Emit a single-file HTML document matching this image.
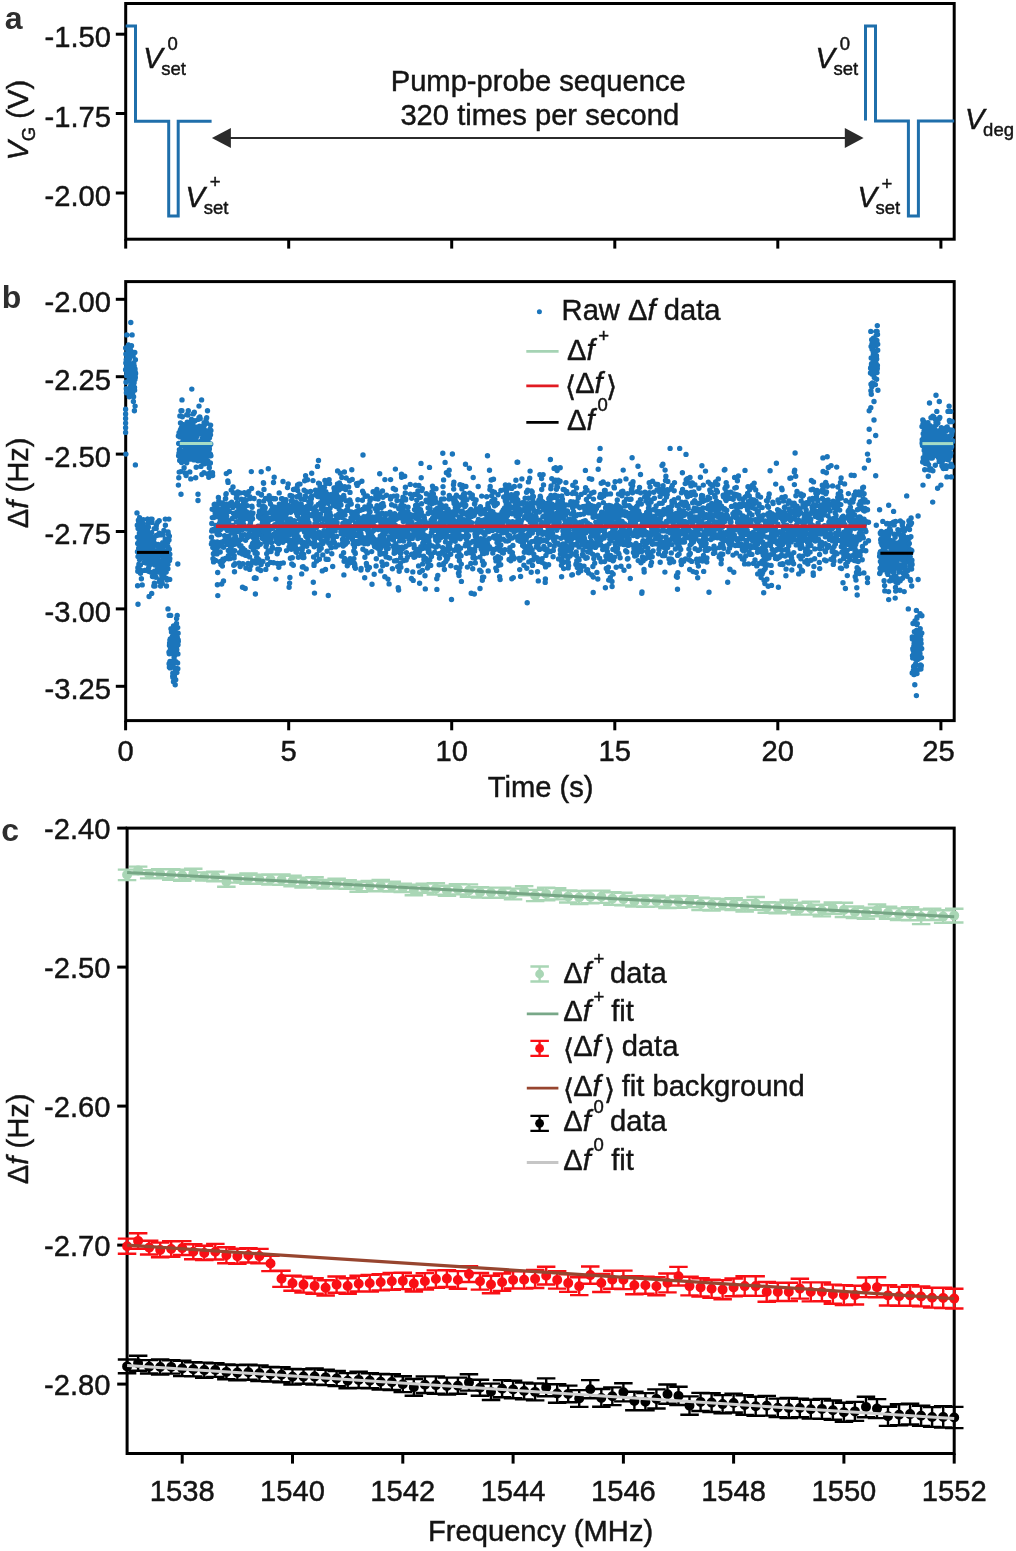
<!DOCTYPE html>
<html lang="en"><head><meta charset="utf-8"><title>Pump-probe sequence figure</title>
<style>html,body{margin:0;padding:0;background:#fff}svg{display:block}.t{font-family:"Liberation Sans","DejaVu Sans",sans-serif;font-size:29.17px;fill:#141414;stroke:#141414;stroke-width:.45px}.s{font-size:18.5px}.i{font-style:italic}.b{font-family:"Liberation Sans",sans-serif;font-weight:bold;font-size:32px;fill:#2e2e2e}.br{font-family:"DejaVu Sans",sans-serif;font-size:28.5px}</style></head><body>
<svg width="1016" height="1551" viewBox="0 0 1016 1551">
<rect width="1016" height="1551" fill="#fff"/>
<g id="panel-a">
<rect x="125.7" y="3.5" width="828.5" height="235.7" fill="none" stroke="#000" stroke-width="3"/>
<line x1="115.8" y1="34.2" x2="125.7" y2="34.2" stroke="#000" stroke-width="3"/>
<text class="t" x="111" y="47.4" text-anchor="end">-1.50</text>
<line x1="115.8" y1="113.5" x2="125.7" y2="113.5" stroke="#000" stroke-width="3"/>
<text class="t" x="111" y="126.7" text-anchor="end">-1.75</text>
<line x1="115.8" y1="193" x2="125.7" y2="193" stroke="#000" stroke-width="3"/>
<text class="t" x="111" y="206.2" text-anchor="end">-2.00</text>
<line x1="125.7" y1="239.2" x2="125.7" y2="248.6" stroke="#000" stroke-width="3"/>
<line x1="288.7" y1="239.2" x2="288.7" y2="248.6" stroke="#000" stroke-width="3"/>
<line x1="451.7" y1="239.2" x2="451.7" y2="248.6" stroke="#000" stroke-width="3"/>
<line x1="614.8" y1="239.2" x2="614.8" y2="248.6" stroke="#000" stroke-width="3"/>
<line x1="777.8" y1="239.2" x2="777.8" y2="248.6" stroke="#000" stroke-width="3"/>
<line x1="940.9" y1="239.2" x2="940.9" y2="248.6" stroke="#000" stroke-width="3"/>
<text class="t" transform="translate(27.5,160.6) rotate(-90)"><tspan class="i">V</tspan><tspan class="s" dy="7.5">G</tspan><tspan dy="-7.5"> (V)</tspan></text>
<path d="M125.7 26H135.5V121.2H168.7V216.1H178.2V121.2H211.6" fill="none" stroke="#1f6fab" stroke-width="3" stroke-linejoin="miter"/>
<path d="M865.5 120.6V26H875.5V121.1H908.4V216.1H918.4V121.1H954.2" fill="none" stroke="#1f6fab" stroke-width="3" stroke-linejoin="miter"/>
<line x1="228" y1="138.1" x2="848" y2="138.1" stroke="#2b2b2b" stroke-width="2"/>
<path d="M211.9 138.1L230.9 128.1V148.1Z" fill="#2b2b2b"/>
<path d="M863.6 138.1L844.8 128.1V148.1Z" fill="#2b2b2b"/>
<text class="t" x="538.2" y="91.2" text-anchor="middle">Pump-probe sequence</text>
<text class="t" x="539.8" y="125.3" text-anchor="middle">320 times per second</text>
<text class="t i" x="143.2" y="67.6">V</text>
<text class="t s" x="161.3" y="74.8">set</text>
<text class="t s" x="167.5" y="49.6">0</text>
<text class="t i" x="185.6" y="207">V</text>
<text class="t s" x="203.7" y="214.2">set</text>
<text class="t s" x="209.8" y="188.4">+</text>
<text class="t i" x="815.4" y="67.6">V</text>
<text class="t s" x="833.5" y="74.8">set</text>
<text class="t s" x="839.7" y="49.6">0</text>
<text class="t i" x="857.4" y="207">V</text>
<text class="t s" x="875.5" y="214.2">set</text>
<text class="t s" x="881.6" y="189.8">+</text>
<text class="t i" x="965" y="129">V</text>
<text class="t s" x="983.1" y="136.2">deg</text>
<text class="b" x="4.8" y="28.8">a</text>
</g>
<g id="panel-b">
<rect x="125.7" y="281.6" width="828.5" height="439" fill="none" stroke="#000" stroke-width="3"/>
<line x1="115.8" y1="299.3" x2="125.7" y2="299.3" stroke="#000" stroke-width="3"/>
<text class="t" x="111" y="312.1" text-anchor="end">-2.00</text>
<line x1="115.8" y1="376.7" x2="125.7" y2="376.7" stroke="#000" stroke-width="3"/>
<text class="t" x="111" y="389.5" text-anchor="end">-2.25</text>
<line x1="115.8" y1="454.1" x2="125.7" y2="454.1" stroke="#000" stroke-width="3"/>
<text class="t" x="111" y="466.9" text-anchor="end">-2.50</text>
<line x1="115.8" y1="531.5" x2="125.7" y2="531.5" stroke="#000" stroke-width="3"/>
<text class="t" x="111" y="544.3" text-anchor="end">-2.75</text>
<line x1="115.8" y1="608.9" x2="125.7" y2="608.9" stroke="#000" stroke-width="3"/>
<text class="t" x="111" y="621.7" text-anchor="end">-3.00</text>
<line x1="115.8" y1="686.3" x2="125.7" y2="686.3" stroke="#000" stroke-width="3"/>
<text class="t" x="111" y="699.1" text-anchor="end">-3.25</text>
<line x1="125.6" y1="720.6" x2="125.6" y2="730.3" stroke="#000" stroke-width="3"/>
<text class="t" x="125.6" y="760.6" text-anchor="middle">0</text>
<line x1="288.7" y1="720.6" x2="288.7" y2="730.3" stroke="#000" stroke-width="3"/>
<text class="t" x="288.7" y="760.6" text-anchor="middle">5</text>
<line x1="451.7" y1="720.6" x2="451.7" y2="730.3" stroke="#000" stroke-width="3"/>
<text class="t" x="451.7" y="760.6" text-anchor="middle">10</text>
<line x1="614.8" y1="720.6" x2="614.8" y2="730.3" stroke="#000" stroke-width="3"/>
<text class="t" x="614.8" y="760.6" text-anchor="middle">15</text>
<line x1="777.8" y1="720.6" x2="777.8" y2="730.3" stroke="#000" stroke-width="3"/>
<text class="t" x="777.8" y="760.6" text-anchor="middle">20</text>
<line x1="940.9" y1="720.6" x2="940.9" y2="730.3" stroke="#000" stroke-width="3"/>
<text class="t" x="938.4" y="760.6" text-anchor="middle">25</text>
<text class="t" x="540.6" y="797" text-anchor="middle">Time (s)</text>
<text class="t" transform="translate(27.5,528.2) rotate(-90)">Δ<tspan class="i">f</tspan> (Hz)</text>
<path d="M125.6 369.7h0M125.7 347.9h0M125.8 362.9h0M125.9 353.9h0M126 382.2h0M126.2 359.6h0M126.3 388.7h0M126.4 392.8h0M126.5 367.5h0M126.6 375.8h0M126.7 359.3h0M126.8 334.9h0M126.9 372.4h0M127 370h0M127.1 356.2h0M127.2 353.5h0M127.4 362.6h0M127.5 362.6h0M127.6 348.5h0M127.7 349.3h0M127.8 370.9h0M127.9 358.3h0M128 358.7h0M128.1 374.1h0M128.2 356h0M128.3 372.7h0M128.4 344.9h0M128.6 358.4h0M128.7 362.3h0M128.8 372.1h0M128.9 365.2h0M129 393.2h0M129.1 380.5h0M129.2 359.4h0M129.3 396.8h0M129.4 354.1h0M129.5 393.4h0M129.6 358.2h0M129.8 381.2h0M129.8 357.2h0M130 366.2h0M130.1 391.9h0M130.2 351.3h0M130.3 349.5h0M130.4 372.6h0M130.5 375.3h0M130.6 374.3h0M130.7 385.8h0M130.8 354.6h0M131 376.5h0M131 370.7h0M131.2 380.6h0M131.3 378.1h0M131.4 387.7h0M131.5 351.8h0M131.6 373h0M131.7 355.5h0M131.8 369.5h0M131.9 379.8h0M132 374.6h0M132.1 376.7h0M132.3 368.2h0M132.4 376.2h0M132.5 375.7h0M132.6 393.6h0M132.7 388.5h0M132.8 352.4h0M132.9 385h0M133 390.4h0M133.1 370.8h0M133.2 355.8h0M133.3 396.5h0M133.5 377.7h0M133.6 383.7h0M133.6 396.8h0M133.8 363h0M133.9 373.1h0M134 371h0M134.1 382.7h0M134.2 365.9h0M134.3 379.8h0M134.4 374.5h0M134.5 387.4h0M134.6 390.2h0M134.8 352.5h0M134.9 379.6h0M135 369h0M135.1 371.8h0M135.2 376.1h0M135.3 377.5h0M135.4 359.7h0M135.5 373h0M135.6 373.5h0M130.8 322.5h0M132.1 334.9h0M131.5 345.7h0M125.6 409.2h0M125.6 413.9h0M125.6 418.5h0M125.6 423.1h0M125.6 427.8h0M125.6 432.4h0M125.9 454.1h0M135.4 464.9h0M134.4 410.8h0M135.1 406.1h0M133.4 401.5h0M137.4 537.1h0M137.5 551.7h0M137.6 585.8h0M137.7 543.4h0M137.8 571.3h0M137.9 567.8h0M138 556.6h0M138.1 528.6h0M138.2 552.2h0M138.3 543h0M138.4 520.3h0M138.6 523.5h0M138.7 548.2h0M138.8 550h0M138.9 564.2h0M139 556.6h0M139.1 540.4h0M139.2 541.2h0M139.3 545.4h0M139.4 532.9h0M139.5 559.5h0M139.6 549.3h0M139.7 537.3h0M139.9 540.4h0M140 533.7h0M140.1 542.9h0M140.2 554.1h0M140.3 544.4h0M140.4 565h0M140.5 573.2h0M140.6 539.4h0M140.7 546.9h0M140.8 542h0M141 570.4h0M141 551.3h0M141.1 554.8h0M141.3 557.4h0M141.4 578.8h0M141.5 550.4h0M141.6 532.9h0M141.7 539.3h0M141.8 553.5h0M141.9 545.9h0M142 534.7h0M142.2 584.9h0M142.2 547.1h0M142.3 537.3h0M142.5 535.9h0M142.6 523.3h0M142.7 530.8h0M142.8 542.2h0M142.9 542.4h0M143 535.5h0M143.1 553.8h0M143.2 547.2h0M143.3 534.4h0M143.4 519.6h0M143.5 549.1h0M143.7 548.9h0M143.8 544.4h0M143.9 528.7h0M144 549.5h0M144.1 526.9h0M144.2 562.2h0M144.3 552.2h0M144.4 552.8h0M144.5 537.9h0M144.6 533.2h0M144.7 570.4h0M144.8 561.6h0M145 543.1h0M145.1 558.1h0M145.2 570.4h0M145.3 533.7h0M145.4 542.1h0M145.5 542.6h0M145.6 556.5h0M145.7 535h0M145.8 553.8h0M145.9 535h0M146.1 563h0M146.2 562h0M146.3 546.1h0M146.4 558.2h0M146.5 538h0M146.6 542.1h0M146.7 560.1h0M146.8 545.2h0M146.9 551.7h0M147 532.1h0M147.2 553.1h0M147.2 552.2h0M147.4 529.5h0M147.5 519.1h0M147.6 519.1h0M147.7 544.6h0M147.8 542.6h0M147.9 523.5h0M148 547h0M148.1 559.5h0M148.2 543.1h0M148.3 540.4h0M148.4 558.5h0M148.6 571.3h0M148.7 567.6h0M148.8 537.7h0M148.9 559.1h0M149 550h0M149.1 545.8h0M149.2 540.9h0M149.3 556h0M149.4 544.1h0M149.5 563.7h0M149.6 555.2h0M149.7 565h0M149.9 533.1h0M150 549.8h0M150.1 560.3h0M150.2 554.3h0M150.3 551.6h0M150.4 538.7h0M150.5 572.1h0M150.6 564.3h0M150.7 554.8h0M150.8 519.1h0M150.9 535.6h0M151.1 551.4h0M151.2 539.3h0M151.3 520.7h0M151.4 553.4h0M151.5 555.1h0M151.6 532.8h0M151.7 541.4h0M151.8 538.7h0M151.9 554.2h0M152 519.1h0M152.1 522.4h0M152.3 539.3h0M152.4 537.4h0M152.5 576.5h0M152.6 538.2h0M152.7 550.6h0M152.8 543.3h0M152.9 540h0M153 556.7h0M153.1 575.8h0M153.2 546.8h0M153.3 563.4h0M153.4 557.7h0M153.6 561.4h0M153.7 558.8h0M153.8 586h0M153.9 538.7h0M154 554.3h0M154.1 542.6h0M154.2 528.6h0M154.3 557.5h0M154.4 583.1h0M154.5 571.1h0M154.6 575.1h0M154.8 565.1h0M154.8 556.7h0M155 586h0M155.1 550.6h0M155.2 577h0M155.3 550.8h0M155.4 557.5h0M155.5 559.8h0M155.6 556.5h0M155.7 562.4h0M155.8 563.4h0M156 577.3h0M156.1 555.2h0M156.2 528.4h0M156.3 525.6h0M156.4 535.4h0M156.5 544.9h0M156.6 564.9h0M156.7 535.5h0M156.8 556.9h0M156.9 554.9h0M157 557h0M157.1 552.5h0M157.3 560.8h0M157.4 556h0M157.5 569.5h0M157.6 559.9h0M157.7 522.3h0M157.8 555.3h0M157.9 556.9h0M158 546.1h0M158.1 544.5h0M158.2 572h0M158.3 559.5h0M158.4 545.1h0M158.6 553.6h0M158.7 556.2h0M158.8 535h0M158.9 565.4h0M159 553.3h0M159.1 562.9h0M159.2 533.2h0M159.3 581.7h0M159.4 563.8h0M159.5 562.6h0M159.7 545.4h0M159.8 547.6h0M159.9 534.9h0M160 579.6h0M160.1 547h0M160.2 562.1h0M160.3 567.5h0M160.4 549.9h0M160.5 570.5h0M160.6 586h0M160.7 561.5h0M160.8 579.5h0M160.9 567.1h0M161.1 552.9h0M161.2 553.5h0M161.3 534.8h0M161.4 561.2h0M161.5 580.8h0M161.6 568.7h0M161.7 570.6h0M161.8 575.4h0M161.9 549.7h0M162 563.2h0M162.2 583.5h0M162.2 544.7h0M162.4 554.1h0M162.5 546.7h0M162.6 550.2h0M162.7 542.8h0M162.8 551.8h0M162.9 534.8h0M163 546.9h0M163.1 546.7h0M163.2 546.8h0M163.3 574.1h0M163.4 556.5h0M163.6 557.9h0M163.7 551.9h0M163.8 574.5h0M163.9 530.5h0M164 552.1h0M164.1 570.6h0M164.2 577.4h0M164.3 556.8h0M164.4 554.2h0M164.5 563.5h0M164.6 551.1h0M164.7 562.6h0M164.8 544.3h0M165 562.6h0M165.1 553.4h0M165.2 539.2h0M165.3 519.1h0M165.4 568.2h0M165.5 560.9h0M165.6 565.3h0M165.7 542.6h0M165.8 572.3h0M165.9 563.3h0M166.1 558.4h0M166.2 571.9h0M166.3 570.6h0M166.4 563h0M166.5 586h0M166.6 578.5h0M166.7 562h0M166.8 553.5h0M166.9 558.3h0M167 580.1h0M167.1 559.1h0M167.2 539.8h0M167.3 543.2h0M167.5 552.1h0M167.6 563.2h0M167.7 542h0M167.8 560.3h0M167.9 568.8h0M168 564.3h0M168.1 532h0M168.2 549.6h0M168.3 534h0M168.4 558.4h0M168.6 538.1h0M168.7 560.5h0M168.8 553.7h0M168.9 519.1h0M169 540h0M169.1 559h0M169.2 554.5h0M169.3 549.3h0M169.4 536.1h0M169.5 560.5h0M169.7 579.4h0M169.8 558.6h0M169.8 554.3h0M137 512.9h0M139.6 517.6h0M137.3 525.3h0M140.3 526.9h0M148.4 526.9h0M165.4 525.3h0M159.2 520.7h0M138 604.3h0M149.1 596.5h0M151.7 593.4h0M177.8 564h0M168 547h0M169 652.3h0M169.1 663.7h0M169.2 615.4h0M169.3 653.8h0M169.4 667.2h0M169.5 645.5h0M169.6 642.9h0M169.8 662.2h0M169.9 640.1h0M170 661.4h0M170.1 667.9h0M170.2 650.1h0M170.3 638.9h0M170.4 662.1h0M170.5 647.6h0M170.6 653.2h0M170.7 615.4h0M170.9 663.1h0M171 628.7h0M171.1 651.4h0M171.2 653.5h0M171.3 641.4h0M171.4 638.3h0M171.5 632h0M171.6 647.8h0M171.7 663.1h0M171.8 661.5h0M171.9 644.4h0M172 643.8h0M172.1 630.3h0M172.3 644.9h0M172.4 636.5h0M172.5 629.5h0M172.6 650.1h0M172.7 676.2h0M172.8 673.3h0M172.9 677.4h0M173 629.2h0M173.1 665.6h0M173.2 635.1h0M173.4 642.5h0M173.5 625.9h0M173.6 636h0M173.7 651.9h0M173.8 652.4h0M173.9 647.8h0M174 647.5h0M174.1 657.8h0M174.2 650.7h0M174.3 627.3h0M174.4 676.2h0M174.5 644.9h0M174.6 661.3h0M174.7 645.1h0M174.9 633.6h0M175 646.1h0M175.1 631.8h0M175.2 668.7h0M175.3 627.9h0M175.4 654.8h0M175.5 637.8h0M175.6 646.3h0M175.7 679.8h0M175.9 661.7h0M176 646.5h0M176.1 625.8h0M176.2 643.7h0M176.3 642.9h0M176.4 669h0M176.5 623.5h0M176.6 618.5h0M176.7 646.5h0M176.8 649.6h0M176.9 672.6h0M177 633.8h0M177.2 615.4h0M177.3 637.5h0M177.4 627.4h0M177.5 639.4h0M177.6 663h0M177.7 627.6h0M177.8 668.8h0M177.9 653.9h0M178 644.8h0M178.1 633.2h0M178.2 640h0M178.3 641.2h0M168 608.9h0M175.2 684.8h0M173.5 681.7h0M178.4 436h0M178.6 455.8h0M178.7 443.4h0M178.8 477.7h0M178.9 435.7h0M179 453.3h0M179.1 432.7h0M179.2 472.1h0M179.3 436h0M179.4 449.6h0M179.5 436.8h0M179.7 460.4h0M179.7 455.9h0M179.9 415.9h0M180 457.3h0M180.1 455.4h0M180.2 450h0M180.3 460.3h0M180.4 430h0M180.5 423h0M180.6 456.8h0M180.7 471.6h0M180.8 431.1h0M180.9 430.5h0M181 433.8h0M181.2 428.3h0M181.3 456.4h0M181.4 446.1h0M181.5 462h0M181.6 462.6h0M181.7 427.2h0M181.8 451.4h0M181.9 410.7h0M182 442.4h0M182.1 452.8h0M182.3 432.1h0M182.3 416.8h0M182.5 435.9h0M182.6 459.9h0M182.7 437.9h0M182.8 424.4h0M182.9 451.8h0M183 455.6h0M183.1 431.9h0M183.2 444.1h0M183.3 461.5h0M183.5 451.8h0M183.6 457.9h0M183.7 444.2h0M183.8 445.1h0M183.9 431.5h0M184 436.3h0M184.1 467.8h0M184.2 440.3h0M184.3 434.3h0M184.4 439.6h0M184.5 430h0M184.7 453h0M184.7 458.9h0M184.9 431.4h0M185 459.3h0M185.1 473h0M185.2 428.6h0M185.3 452.9h0M185.4 448.1h0M185.5 461.7h0M185.6 461.4h0M185.7 460.9h0M185.8 449.8h0M185.9 439.6h0M186.1 475.5h0M186.2 432.9h0M186.3 460.2h0M186.4 458h0M186.5 432.2h0M186.6 442.9h0M186.7 462.7h0M186.8 414.7h0M186.9 453.1h0M187 437.5h0M187.1 438.3h0M187.2 422.1h0M187.4 447.4h0M187.5 428h0M187.6 451.8h0M187.7 424.8h0M187.8 451.5h0M187.9 446.6h0M188 415.1h0M188.1 437h0M188.2 439.3h0M188.3 410.7h0M188.4 434.9h0M188.5 452.1h0M188.7 430.1h0M188.8 458.5h0M188.9 425.4h0M189 424.3h0M189.1 449.8h0M189.2 449.6h0M189.3 437.8h0M189.4 442.6h0M189.5 456.6h0M189.7 436.1h0M189.8 471.9h0M189.9 447.2h0M190 447.3h0M190.1 445.5h0M190.2 437.6h0M190.3 459h0M190.4 432.9h0M190.5 442.7h0M190.6 450.3h0M190.7 459.1h0M190.8 457.5h0M190.9 435.6h0M191.1 453.3h0M191.2 438.4h0M191.3 425.2h0M191.4 426.4h0M191.5 419.4h0M191.6 445.7h0M191.7 455.9h0M191.8 427.4h0M191.9 437.1h0M192 425.2h0M192.2 440.5h0M192.2 423.5h0M192.3 427.2h0M192.5 428.8h0M192.6 431.2h0M192.7 432.4h0M192.8 433.4h0M192.9 435.3h0M193 423.6h0M193.1 445.2h0M193.2 413.9h0M193.3 440.8h0M193.4 427.2h0M193.6 442.7h0M193.7 445.6h0M193.8 413.1h0M193.9 447.4h0M194 459.9h0M194.1 451.8h0M194.2 446.5h0M194.3 412.3h0M194.4 440.4h0M194.5 431.2h0M194.6 458.9h0M194.7 439.8h0M194.9 435.4h0M195 420.7h0M195.1 456.1h0M195.2 438.5h0M195.3 442.5h0M195.4 459.5h0M195.5 444.8h0M195.6 448.5h0M195.7 477.7h0M195.8 438.9h0M196 441h0M196.1 454.1h0M196.2 467.3h0M196.3 427.4h0M196.4 444.9h0M196.5 434.2h0M196.6 427.3h0M196.7 455h0M196.8 436.4h0M196.9 451.9h0M197 448.5h0M197.2 449.6h0M197.3 449.2h0M197.4 434.6h0M197.5 449.5h0M197.6 452.9h0M197.7 452.2h0M197.8 444.3h0M197.9 460.7h0M198 454.9h0M198.1 449.4h0M198.2 456.7h0M198.3 450.5h0M198.4 457.9h0M198.6 419.3h0M198.7 430.3h0M198.8 442.2h0M198.9 448.9h0M199 417.7h0M199.1 443.8h0M199.2 448.7h0M199.3 443h0M199.4 442.5h0M199.5 426.3h0M199.6 448.1h0M199.8 416.9h0M199.9 456.9h0M200 433.9h0M200.1 456.9h0M200.2 418.4h0M200.3 448.8h0M200.4 445.6h0M200.5 432.3h0M200.6 426.8h0M200.7 460.8h0M200.8 450.1h0M200.9 466.4h0M201.1 444.9h0M201.2 448.1h0M201.3 452.1h0M201.4 457.4h0M201.5 451.5h0M201.6 457.6h0M201.7 440.4h0M201.8 427.1h0M201.9 474.5h0M202 447.1h0M202.1 451h0M202.3 438.8h0M202.4 459.4h0M202.5 447.1h0M202.6 460.5h0M202.7 434.7h0M202.8 441.9h0M202.9 445.6h0M203 437.6h0M203.1 445.7h0M203.2 462.8h0M203.4 433.5h0M203.4 436.9h0M203.6 443.5h0M203.7 428.2h0M203.8 424.9h0M203.9 457.7h0M204 454.2h0M204.1 422.8h0M204.2 425.4h0M204.3 454.5h0M204.4 459.1h0M204.5 450.9h0M204.7 448h0M204.7 463.8h0M204.9 441.2h0M205 459.5h0M205.1 459.5h0M205.2 430.5h0M205.3 452.9h0M205.4 444.6h0M205.5 435.7h0M205.6 432.7h0M205.7 449.2h0M205.9 442.9h0M205.9 455.2h0M206.1 419.2h0M206.2 434.6h0M206.3 459.4h0M206.4 444.4h0M206.5 434.7h0M206.6 437.4h0M206.7 417.8h0M206.8 423.2h0M206.9 451.6h0M207 445.6h0M207.1 462.7h0M207.3 441h0M207.4 442.8h0M207.5 410.7h0M207.6 443.3h0M207.7 474h0M207.8 454.9h0M207.9 442.7h0M208 461.1h0M208.1 456.2h0M208.2 448.4h0M208.3 439.1h0M208.4 445.3h0M208.6 455.7h0M208.7 432.8h0M208.8 451.8h0M208.9 451.9h0M209 464.1h0M209.1 455.6h0M209.2 435.3h0M209.3 467.7h0M209.4 449h0M209.5 437.7h0M209.7 454.6h0M209.7 445.6h0M209.9 463.6h0M210 429.1h0M210.1 432.3h0M210.2 444.5h0M210.3 472.6h0M210.4 463h0M210.5 434.8h0M210.6 425.1h0M210.7 443.9h0M210.9 430.5h0M210.9 455.7h0M191.8 389.1h0M182 399.9h0M201.6 399.9h0M199 406.1h0M181 410.8h0M178.4 485.1h0M181 494.3h0M198 494.3h0M198 500.5h0M190.8 478.9h0M208.8 477.3h0M210.4 454.1h0M203.9 472.7h0M211.4 544.1h0M211.5 537.3h0M211.7 531.1h0M211.8 523.5h0M211.9 542.4h0M212.1 529.9h0M212.2 509.2h0M212.3 517.6h0M212.5 472.7h0M212.6 475.5h0M212.8 547.4h0M212.9 542.2h0M213 558.8h0M213.2 558.7h0M213.3 529.7h0M213.4 553.8h0M213.6 561.9h0M213.7 543h0M213.8 517.5h0M214 541.9h0M214.1 530.8h0M214.2 504.5h0M214.4 517.3h0M214.5 510.6h0M214.7 504.3h0M214.8 551.5h0M214.9 529.7h0M215.1 549.4h0M215.2 513.7h0M215.3 516h0M215.5 560.5h0M215.6 508.2h0M215.8 550.7h0M215.9 504.9h0M216 525.4h0M216.1 544.9h0M216.3 545.3h0M216.4 531.5h0M216.6 529.9h0M216.7 548.2h0M216.8 516.5h0M217 553.9h0M217.1 533.9h0M217.2 541.9h0M217.4 584.7h0M217.5 543.4h0M217.7 572.5h0M217.8 595.6h0M217.9 546.7h0M218.1 534.7h0M218.2 510.3h0M218.3 534.5h0M218.4 497.4h0M218.6 503.8h0M218.7 510.3h0M218.8 501.1h0M219 528h0M219.1 542.6h0M219.3 513.5h0M219.4 508.9h0M219.5 523.4h0M219.7 534.6h0M219.8 561.8h0M220 511.4h0M220.1 521.7h0M220.2 552h0M220.3 519.3h0M220.5 503.2h0M220.6 529.6h0M220.8 518.5h0M220.9 515.6h0M221 564.5h0M221.2 542.1h0M221.3 527.9h0M221.5 523.3h0M221.6 512.7h0M221.7 584h0M221.9 546.3h0M222 526.2h0M222.1 519h0M222.3 503h0M222.4 566.1h0M222.5 542.2h0M222.7 561.4h0M222.8 518.6h0M222.9 559.1h0M223.1 506.1h0M223.2 507.9h0M223.4 517.8h0M223.5 580.9h0M223.6 547.3h0M223.8 512.1h0M223.9 559.9h0M224 541.9h0M224.2 540.6h0M224.3 517.3h0M224.4 528.1h0M224.6 523.1h0M224.7 535.7h0M224.8 524.4h0M225 535.9h0M225.1 508.1h0M225.2 527.4h0M225.4 498.8h0M225.5 558.4h0M225.7 498.6h0M225.8 527.5h0M225.9 494.2h0M226.1 510.9h0M226.2 493.6h0M226.3 473.6h0M226.5 520.6h0M226.6 507h0M226.7 516h0M226.9 504.2h0M227 544.4h0M227.2 511.6h0M227.3 508.1h0M227.4 530.4h0M227.6 510.4h0M227.7 539.5h0M227.8 481h0M228 510.6h0M228.1 482.4h0M228.3 550.4h0M228.4 555.8h0M228.5 525.6h0M228.7 558.7h0M228.8 520.6h0M228.9 536h0M229.1 524h0M229.2 504.2h0M229.3 511.4h0M229.4 471.6h0M229.6 505.3h0M229.7 551.2h0M229.9 504.9h0M230 554h0M230.1 529.2h0M230.3 558.6h0M230.4 546.4h0M230.5 503.1h0M230.7 542.7h0M230.8 547.9h0M231 539.8h0M231.1 527.1h0M231.2 490.1h0M231.4 546.3h0M231.5 541.3h0M231.7 502.3h0M231.8 552.1h0M231.9 532.7h0M232 503.9h0M232.2 518.5h0M232.3 532h0M232.5 525.4h0M232.6 531.5h0M232.7 527h0M232.8 507.5h0M233 486.9h0M233.1 492.6h0M233.3 530.6h0M233.4 540.1h0M233.5 513.4h0M233.7 565.2h0M233.8 539.1h0M234 544.5h0M234.1 558.1h0M234.2 555.6h0M234.3 527.8h0M234.5 571.7h0M234.6 564.5h0M234.7 550.6h0M234.9 536.4h0M235 563.7h0M235.2 505.6h0M235.3 530.1h0M235.5 528.7h0M235.6 531.2h0M235.7 536.9h0M235.9 540.1h0M236 493.8h0M236.1 516.5h0M236.3 521.9h0M236.4 497.9h0M236.5 531.8h0M236.7 503.9h0M236.8 512h0M236.9 531.8h0M237.1 495h0M237.2 543.8h0M237.4 502.7h0M237.5 539.9h0M237.6 514.1h0M237.7 492h0M237.9 504.5h0M238 530.6h0M238.2 521.7h0M238.3 531.6h0M238.4 543.5h0M238.6 542.6h0M238.7 521.4h0M238.8 508.5h0M239 563.1h0M239.1 527.3h0M239.2 515.6h0M239.4 524.7h0M239.5 552.8h0M239.7 505.7h0M239.8 546h0M239.9 513.2h0M240.1 492.9h0M240.2 566.6h0M240.3 509.6h0M240.5 511.5h0M240.6 518.2h0M240.7 539.6h0M240.9 522.2h0M241 545.8h0M241.1 513.9h0M241.3 499.2h0M241.4 535h0M241.5 550.1h0M241.7 536.6h0M241.8 523.8h0M242 528.6h0M242.1 529.7h0M242.2 526h0M242.4 554h0M242.5 587.2h0M242.7 518.9h0M242.8 505.4h0M242.9 563.8h0M243 548.5h0M243.2 520.7h0M243.3 504.6h0M243.5 517.9h0M243.6 502.7h0M243.7 524.5h0M243.8 514.1h0M244 510.2h0M244.1 528.9h0M244.3 492.7h0M244.4 509.7h0M244.5 499.6h0M244.7 534.7h0M244.8 499.9h0M244.9 550.3h0M245.1 528.8h0M245.2 588.5h0M245.4 555.2h0M245.5 517.7h0M245.6 540.3h0M245.7 527.1h0M245.9 568h0M246 500.5h0M246.2 518.4h0M246.3 529.1h0M246.5 511.7h0M246.6 517.3h0M246.7 494.8h0M246.8 517.9h0M247 555.5h0M247.1 535.5h0M247.3 505.6h0M247.4 515.7h0M247.5 537.5h0M247.6 513.4h0M247.8 527h0M247.9 514.8h0M248.1 563.4h0M248.2 552.3h0M248.4 518.8h0M248.5 536.6h0M248.6 518.2h0M248.7 491.8h0M248.9 536.5h0M249 518.2h0M249.2 529.7h0M249.3 533.7h0M249.4 525.8h0M249.6 556.9h0M249.7 569.4h0M249.8 496.7h0M250 526.2h0M250.1 498.6h0M250.2 524.5h0M250.4 528.7h0M250.5 522.6h0M250.7 526.3h0M250.8 565.4h0M250.9 512.8h0M251.1 546.7h0M251.2 520.3h0M251.3 471.6h0M251.5 517.6h0M251.6 488.5h0M251.7 529.5h0M251.9 506.1h0M252 515.5h0M252.1 507.4h0M252.3 536.5h0M252.4 543.9h0M252.6 518.8h0M252.7 561h0M252.8 543.2h0M253 513.1h0M253.1 537.1h0M253.3 549.8h0M253.4 550.1h0M253.5 527.6h0M253.6 544.5h0M253.8 538.6h0M253.9 546.9h0M254.1 498.5h0M254.2 542.2h0M254.3 578.2h0M254.4 533.8h0M254.6 535.8h0M254.7 538.4h0M254.9 577.7h0M255 527.7h0M255.1 553.2h0M255.3 562h0M255.4 594h0M255.6 551.9h0M255.7 563.1h0M255.8 533.8h0M256 562.4h0M256.1 578.3h0M256.2 546.6h0M256.4 563h0M256.5 530.2h0M256.6 557.4h0M256.8 539.3h0M256.9 545h0M257 543h0M257.2 553.5h0M257.3 558.2h0M257.5 541.7h0M257.6 546.8h0M257.7 531.4h0M257.9 532.2h0M258 569h0M258.1 526.3h0M258.3 493.1h0M258.4 528h0M258.5 515.7h0M258.7 517h0M258.8 534.6h0M259 559.8h0M259.1 504.7h0M259.2 501.4h0M259.4 512.6h0M259.5 511.3h0M259.6 513.5h0M259.8 526.4h0M259.9 517.7h0M260.1 527.8h0M260.2 518.3h0M260.3 544.2h0M260.5 533.4h0M260.6 514.5h0M260.7 528.3h0M260.8 570.5h0M261 510.8h0M261.1 564.5h0M261.2 471.7h0M261.4 495h0M261.5 494.5h0M261.7 526.9h0M261.8 535.6h0M261.9 515.6h0M262.1 516h0M262.2 538.1h0M262.4 522.8h0M262.5 506.2h0M262.6 508.1h0" fill="none" stroke="#1b75bb" stroke-width="5.4" stroke-linecap="round"/>
<path d="M262.7 538.6h0M262.9 561.5h0M263 517.7h0M263.2 531.4h0M263.3 511.5h0M263.4 482.8h0M263.6 483.2h0M263.7 511.1h0M263.8 501.1h0M264 489.4h0M264.1 525.3h0M264.2 522.9h0M264.4 506.8h0M264.5 529.8h0M264.7 539.9h0M264.8 542.3h0M264.9 522.2h0M265.1 537.7h0M265.2 507.8h0M265.3 530h0M265.5 498.5h0M265.6 512.5h0M265.8 569.4h0M265.9 518.1h0M266 546.6h0M266.2 515h0M266.3 533.6h0M266.4 545h0M266.6 530.3h0M266.7 553.8h0M266.8 525.3h0M267 526.9h0M267.1 536.5h0M267.2 528.2h0M267.4 558.1h0M267.5 529.1h0M267.6 564.7h0M267.8 528.6h0M267.9 528.8h0M268.1 522.1h0M268.2 550.6h0M268.3 468.7h0M268.4 539.4h0M268.6 529.5h0M268.7 538.5h0M268.9 497.5h0M269 530.7h0M269.2 495.8h0M269.3 534.8h0M269.4 518.2h0M269.5 526.4h0M269.7 500.5h0M269.8 528.3h0M270 535.1h0M270.1 512.5h0M270.2 541.9h0M270.4 540.3h0M270.5 503.9h0M270.6 562.4h0M270.8 511.2h0M270.9 538.5h0M271 551.5h0M271.2 526.7h0M271.3 519.2h0M271.5 542.5h0M271.6 528.6h0M271.7 509.6h0M271.8 518.3h0M272 535.1h0M272.1 548.6h0M272.3 547.3h0M272.4 535.9h0M272.5 506.6h0M272.7 510.3h0M272.8 513.6h0M272.9 498.4h0M273.1 527.2h0M273.2 527.6h0M273.3 526.3h0M273.5 482.5h0M273.6 562.7h0M273.8 518.7h0M273.9 513.5h0M274 527.1h0M274.2 477.3h0M274.3 498.7h0M274.4 498.9h0M274.6 533.8h0M274.7 507.2h0M274.8 524.8h0M275 517.3h0M275.1 515.4h0M275.3 534.4h0M275.4 516.7h0M275.5 498.8h0M275.7 511.4h0M275.8 532.2h0M275.9 579.1h0M276.1 518.3h0M276.2 514.1h0M276.3 539.5h0M276.5 541.5h0M276.6 514.2h0M276.7 540.4h0M276.9 510.2h0M277 549.4h0M277.2 553.8h0M277.3 537h0M277.4 563.5h0M277.6 537.9h0M277.7 520.6h0M277.8 551.2h0M278 508h0M278.1 534h0M278.2 518h0M278.4 528.7h0M278.5 543h0M278.6 543.6h0M278.8 567.3h0M278.9 550h0M279 542.5h0M279.2 492.9h0M279.3 504.3h0M279.4 549.4h0M279.6 505.7h0M279.7 518.7h0M279.9 533.3h0M280 523.3h0M280.1 510h0M280.3 541h0M280.4 541.6h0M280.6 535.2h0M280.7 563.5h0M280.8 530.3h0M281 533.3h0M281.1 538.9h0M281.2 536.3h0M281.4 511.7h0M281.5 498.8h0M281.6 513.7h0M281.8 538.2h0M281.9 509.3h0M282.1 520.8h0M282.2 515.5h0M282.3 498.8h0M282.4 537.3h0M282.6 523.2h0M282.7 539.8h0M282.9 542.3h0M283 481.5h0M283.1 503.5h0M283.3 562.9h0M283.4 517.3h0M283.5 532.6h0M283.7 507h0M283.8 525.5h0M283.9 538h0M284.1 530.6h0M284.2 517.9h0M284.3 524.6h0M284.5 527.7h0M284.6 527.7h0M284.7 515h0M284.9 538h0M285 511.2h0M285.2 516.3h0M285.3 526.4h0M285.5 502.9h0M285.6 535.1h0M285.7 517.5h0M285.9 524.2h0M286 499.8h0M286.1 526.7h0M286.3 511.9h0M286.4 506.8h0M286.5 550.6h0M286.7 513.4h0M286.8 540.4h0M286.9 533.2h0M287.1 536.5h0M287.2 512.5h0M287.3 512.1h0M287.5 487.6h0M287.6 520.9h0M287.8 532.7h0M287.9 532.8h0M288 505.3h0M288.2 483.9h0M288.3 508.6h0M288.4 530.5h0M288.5 519.3h0M288.7 523.1h0M288.8 529.9h0M289 547.1h0M289.1 587.3h0M289.2 539.6h0M289.4 506.7h0M289.5 531.5h0M289.6 583.1h0M289.8 543.4h0M289.9 577.5h0M290.1 495.4h0M290.2 534.4h0M290.4 558.3h0M290.5 518.9h0M290.6 544.7h0M290.7 512.2h0M290.9 521.9h0M291 543.2h0M291.1 507.2h0M291.3 549.2h0M291.4 501h0M291.5 525h0M291.7 546.9h0M291.8 564h0M292 496h0M292.1 499.9h0M292.3 557.7h0M292.4 501.5h0M292.5 525.5h0M292.6 533.9h0M292.8 525.2h0M292.9 533.8h0M293 505.3h0M293.2 529.5h0M293.3 565.3h0M293.5 489.5h0M293.6 510.6h0M293.7 545.7h0M293.9 527h0M294 539h0M294.1 520.8h0M294.3 521.1h0M294.4 523.8h0M294.6 539.1h0M294.7 537.2h0M294.8 510.2h0M295 532.4h0M295.1 489.3h0M295.2 545.7h0M295.4 523.9h0M295.5 541.7h0M295.6 547.8h0M295.8 502.3h0M295.9 532h0M296 551.7h0M296.2 536h0M296.3 506.9h0M296.5 552.3h0M296.6 503.6h0M296.7 513.5h0M296.9 532.6h0M297 496.7h0M297.1 487.5h0M297.3 512.7h0M297.4 515.5h0M297.6 484.9h0M297.7 490.6h0M297.8 542h0M297.9 528.8h0M298.1 530.2h0M298.2 536.8h0M298.3 557.2h0M298.5 504h0M298.6 513.1h0M298.8 508.1h0M298.9 484.3h0M299 519.1h0M299.2 509.1h0M299.3 497h0M299.4 518.6h0M299.6 507.7h0M299.7 494.7h0M299.8 507.1h0M300 484.1h0M300.1 523.5h0M300.3 507.4h0M300.4 549h0M300.5 527.4h0M300.7 540.2h0M300.8 498.8h0M300.9 520.3h0M301.1 529h0M301.2 503.9h0M301.3 511.4h0M301.5 523.6h0M301.6 553.9h0M301.7 573.9h0M301.9 542.4h0M302 548.8h0M302.2 549.5h0M302.3 543.5h0M302.4 567h0M302.6 506.9h0M302.7 557.5h0M302.8 546.9h0M303 519.5h0M303.1 566.8h0M303.3 515.4h0M303.4 517.8h0M303.5 542.5h0M303.6 554.3h0M303.8 529.5h0M303.9 557.6h0M304.1 490.2h0M304.2 517.4h0M304.3 529.4h0M304.5 532.1h0M304.6 499.4h0M304.7 480.7h0M304.9 528.3h0M305 511h0M305.1 544.4h0M305.3 495.9h0M305.4 507.7h0M305.6 475.8h0M305.7 527.7h0M305.8 536h0M306 544.3h0M306.1 512h0M306.2 568.9h0M306.4 517h0M306.5 523.4h0M306.6 536.9h0M306.8 546.2h0M306.9 506.5h0M307 492h0M307.2 533.5h0M307.3 512h0M307.5 479.8h0M307.6 530h0M307.7 517.6h0M307.9 540.8h0M308 520.8h0M308.1 524.5h0M308.3 529.5h0M308.4 536.7h0M308.6 551.6h0M308.7 541.4h0M308.8 535.4h0M308.9 502.2h0M309.1 522.9h0M309.2 531.4h0M309.4 504.3h0M309.5 505.6h0M309.6 531h0M309.8 526.3h0M309.9 498.1h0M310 508.3h0M310.2 531.8h0M310.3 506.1h0M310.4 514.9h0M310.6 491.5h0M310.7 535.3h0M310.8 500h0M311 502.9h0M311.1 532.8h0M311.3 496.2h0M311.4 498.6h0M311.5 543.8h0M311.7 473.2h0M311.8 543.5h0M311.9 543.1h0M312.1 531.5h0M312.2 515.7h0M312.3 514.3h0M312.5 536.3h0M312.6 509.1h0M312.7 533.5h0M312.9 514.5h0M313 480.6h0M313.2 530.4h0M313.3 582.2h0M313.4 536.1h0M313.6 557h0M313.7 531h0M313.8 537.7h0M314 565.4h0M314.1 564h0M314.2 546.7h0M314.4 541.8h0M314.5 593.1h0M314.7 511.6h0M314.8 527.9h0M314.9 523.7h0M315 514.6h0M315.2 538.6h0M315.3 519.6h0M315.5 490.1h0M315.6 495h0M315.7 506.6h0M315.9 522.8h0M316 535.7h0M316.1 491.1h0M316.3 511.2h0M316.4 527.6h0M316.6 561.1h0M316.7 534.9h0M316.8 554.7h0M317 494.4h0M317.1 524.1h0M317.3 545.5h0M317.4 536.4h0M317.5 466.4h0M317.7 496.5h0M317.8 545.7h0M317.9 518h0M318.1 533.3h0M318.2 544.9h0M318.3 504.5h0M318.5 460.5h0M318.6 483.2h0M318.7 519.8h0M318.9 532.2h0M319 514.6h0M319.2 496.8h0M319.3 550.2h0M319.4 559.2h0M319.5 483.8h0M319.7 517.6h0M319.8 490.3h0M320 516.5h0M320.1 487.3h0M320.2 538.4h0M320.4 514.2h0M320.5 486.7h0M320.6 502.6h0M320.8 534.8h0M320.9 505.8h0M321 534.2h0M321.2 548.3h0M321.3 509h0M321.4 489.2h0M321.6 497.3h0M321.7 541h0M321.9 489.9h0M322 494h0M322.1 523.9h0M322.3 570.9h0M322.4 498.4h0M322.5 502.6h0M322.7 508.7h0M322.8 554.9h0M322.9 543.6h0M323.1 488.9h0M323.2 488.9h0M323.4 500.4h0M323.5 519.3h0M323.6 504.2h0M323.8 524.9h0M323.9 518.7h0M324 530.8h0M324.2 510.8h0M324.3 519.2h0M324.5 487.1h0M324.6 500.1h0M324.7 536h0M324.9 480.5h0M325 541h0M325.1 508.9h0M325.2 501.7h0M325.4 494.2h0M325.5 569.4h0M325.7 496.8h0M325.8 491.7h0M325.9 483.8h0M326.1 559.3h0M326.2 524.2h0M326.3 515.5h0M326.5 520h0M326.6 482.7h0M326.8 532h0M326.9 493.9h0M327 510h0M327.1 551.2h0M327.3 539.2h0M327.4 533.3h0M327.5 518.5h0M327.7 500.2h0M327.8 529.9h0M328 503.2h0M328.1 559.4h0M328.3 595.5h0M328.4 534.3h0M328.5 513.5h0M328.7 533.8h0M328.8 543.3h0M328.9 509.1h0M329.1 479.8h0M329.2 515.5h0M329.3 530.2h0M329.5 532.9h0M329.6 483.6h0M329.7 523.8h0M329.9 512.6h0M330 497.8h0M330.1 507.9h0M330.3 545.2h0M330.4 499.4h0M330.6 494.7h0M330.7 515.4h0M330.8 501.9h0M330.9 534.1h0M331.1 536.1h0M331.2 547.7h0M331.4 519.6h0M331.5 542.9h0M331.6 523.6h0M331.8 553.7h0M331.9 532.7h0M332.1 535.8h0M332.2 531.8h0M332.3 522.5h0M332.5 525.3h0M332.6 531.9h0M332.7 566.5h0M332.9 502.2h0M333 540h0M333.1 527.2h0M333.3 539.4h0M333.4 498.5h0M333.6 536.4h0M333.7 504.7h0M333.8 493.4h0M334 487.9h0M334.1 495.1h0M334.2 504.5h0M334.4 542.4h0M334.5 491h0M334.6 490.3h0M334.8 498.7h0M334.9 505.7h0M335 520.2h0M335.2 530.9h0M335.3 494.3h0M335.4 494.5h0M335.6 546.9h0M335.7 504h0M335.9 520h0M336 506.5h0M336.1 515.6h0M336.3 496.5h0M336.4 491.4h0M336.5 494.2h0M336.7 536.4h0M336.8 487h0M336.9 495.1h0M337.1 522.7h0M337.2 486.6h0M337.3 527.4h0M337.5 484h0M337.6 470.9h0M337.8 518.1h0M337.9 487.9h0M338 505h0M338.2 500.6h0M338.3 545h0M338.4 504.3h0M338.6 514.1h0M338.7 502.6h0M338.8 514.2h0M339 490.1h0M339.1 509.1h0M339.2 500.9h0M339.4 482.9h0M339.5 505.8h0M339.6 484.8h0M339.8 503.2h0M339.9 497.8h0M340.1 513.1h0M340.2 487.8h0M340.3 473.3h0M340.5 499.7h0M340.6 485.3h0M340.7 500.5h0M340.9 531.5h0M341 504.9h0M341.2 488.4h0M341.3 533.8h0M341.4 556h0M341.6 514.2h0M341.7 532.2h0M341.8 477.5h0M342 517.6h0M342.1 516.9h0M342.2 528.4h0M342.4 511.7h0M342.5 539.5h0M342.6 543h0M342.8 523.4h0M342.9 538.9h0M343.1 487.9h0M343.2 546.1h0M343.3 534.7h0M343.5 540.5h0M343.6 552.8h0M343.7 495.5h0M343.9 574.9h0M344 497.1h0M344.1 561.3h0M344.3 526.6h0M344.4 472h0M344.6 558.4h0M344.7 543.4h0M344.8 486.7h0M345 515h0M345.1 529.8h0M345.2 520.6h0M345.4 544.2h0M345.5 526.6h0M345.6 489.5h0M345.8 528.3h0M345.9 521.6h0M346 500.8h0M346.2 478h0M346.3 525.4h0M346.5 510.2h0M346.6 527.9h0M346.7 526.5h0M346.9 523.6h0M347 533.8h0M347.1 560.6h0M347.3 565.7h0M347.4 542.2h0M347.6 528.8h0M347.7 506.2h0M347.8 537.8h0M348 527h0M348.1 510.4h0M348.2 500.8h0M348.4 522.3h0M348.5 521.5h0M348.6 486.9h0M348.8 529.3h0M348.9 533h0M349 563.2h0M349.2 522.8h0M349.3 529.1h0M349.5 480.7h0M349.6 527.1h0M349.7 499.9h0M349.9 504.2h0M350 492.4h0M350.1 558.8h0M350.2 501.2h0M350.4 533.9h0M350.5 533h0M350.7 532.3h0M350.8 529.7h0M351 517.9h0M351.1 562.4h0M351.2 504h0M351.4 512h0M351.5 537.2h0M351.6 520.3h0M351.8 469.8h0M351.9 513.6h0M352 527.7h0M352.2 479.4h0M352.3 536.6h0M352.4 532.6h0M352.6 539.8h0M352.7 536.7h0M352.9 514.9h0M353 519h0M353.1 544.1h0M353.2 526.4h0M353.4 518.5h0M353.5 530.3h0M353.7 527.3h0M353.8 551h0M353.9 558.6h0M354.1 543.5h0M354.2 563.2h0M354.4 533.9h0M354.5 547h0M354.6 566.4h0M354.7 564.2h0M354.9 565.4h0M355 553.1h0M355.1 552.7h0M355.3 553.5h0M355.4 568.2h0M355.6 515.7h0M355.7 523.5h0M355.8 535.1h0M356 511.6h0M356.1 526.9h0M356.2 542h0M356.4 535.4h0M356.5 483.8h0M356.7 514.3h0M356.8 512.8h0M356.9 541.5h0M357.1 518.4h0M357.2 485.4h0M357.3 518.2h0M357.5 512h0M357.6 506.3h0M357.7 516.3h0M357.9 499.7h0M358 529.6h0M358.2 519.5h0M358.3 543.6h0M358.4 483.3h0M358.6 535.7h0M358.7 534h0M358.8 510.1h0M358.9 542.2h0M359.1 526.1h0M359.2 542.9h0M359.4 524h0M359.5 535.9h0M359.6 518.1h0M359.8 534.3h0M359.9 541.1h0M360 539.7h0M360.2 535.8h0M360.3 542.9h0M360.5 510.3h0M360.6 523.9h0M360.7 540.8h0M360.9 570h0M361 533.8h0M361.1 568.4h0M361.3 535.9h0M361.4 529.3h0M361.5 539.3h0M361.7 541.8h0M361.8 541.1h0M361.9 481.3h0M362.1 526.5h0M362.2 523.1h0M362.4 500.3h0M362.5 509.5h0M362.6 491.1h0M362.8 542.5h0M362.9 549.2h0M363 455h0M363.2 521.7h0M363.3 528.2h0M363.4 521.1h0M363.6 493.2h0M363.7 541.1h0M363.8 516.7h0M364 525.4h0M364.1 509.1h0M364.2 522.1h0M364.4 538.2h0M364.5 543.8h0M364.7 577.7h0M364.8 507h0M364.9 557.3h0M365.1 539.6h0M365.2 496.4h0M365.4 543.4h0M365.5 517.7h0M365.6 537.9h0M365.7 519.5h0M365.9 539.7h0M366 551.2h0M366.2 516.6h0M366.3 542h0M366.4 563.5h0M366.5 539.8h0M366.7 528.3h0M366.8 565.8h0M367 526h0M367.1 530.3h0M367.3 496h0M367.4 552.9h0M367.5 524.4h0M367.7 569.7h0M367.8 543.8h0M367.9 529.2h0M368 525.2h0M368.2 532.5h0M368.3 528h0M368.5 537.9h0M368.6 534.1h0M368.7 520.2h0M368.9 514.8h0M369 510.5h0M369.1 504.5h0M369.3 507.5h0M369.4 567.4h0M369.5 541.5h0M369.7 531.8h0M369.8 541.3h0M370 500.4h0M370.1 511.8h0M370.2 533.1h0M370.4 525.4h0M370.5 506h0M370.6 537.1h0M370.8 536.2h0M370.9 518.8h0M371 524h0M371.2 498.5h0M371.3 519h0M371.4 516.9h0M371.6 539.6h0M371.7 551.6h0M371.9 532.6h0M372 584.3h0M372.1 524.6h0M372.3 519.2h0M372.4 536.8h0M372.6 541.9h0M372.7 517.6h0M372.8 542.4h0M373 517.2h0M373.1 491.8h0M373.2 522.7h0M373.3 519.6h0M373.5 526.8h0M373.6 530.4h0M373.8 529.8h0M373.9 538.7h0M374 518.1h0M374.2 574.2h0M374.3 545.1h0M374.5 520.5h0M374.6 546.6h0M374.7 528.8h0M374.9 540.4h0M375 518.6h0M375.1 508.6h0M375.2 498.6h0M375.4 519.2h0M375.6 547.1h0M375.7 527h0M375.8 520.4h0M375.9 495.5h0M376.1 566h0M376.2 516.7h0M376.3 558.7h0M376.5 509.4h0M376.6 511.2h0M376.8 507.7h0M376.9 489.5h0M377 505.8h0M377.2 528.4h0M377.3 509.7h0M377.4 492.3h0M377.6 517.3h0M377.7 519.4h0M377.8 548.2h0M378 499.1h0M378.1 529.6h0M378.3 539.6h0M378.4 539.9h0M378.5 543.5h0M378.6 527.9h0M378.8 493h0M378.9 507.4h0M379.1 495.7h0M379.2 493.8h0M379.3 540.8h0M379.5 513.8h0M379.6 493.6h0M379.7 473.8h0M379.9 551.5h0M380 554.3h0M380.2 517.7h0M380.3 536h0M380.4 548.6h0M380.6 521.4h0M380.7 546.6h0M380.8 570.9h0M381 524.3h0M381.1 522.9h0M381.3 507.8h0M381.4 504.4h0M381.5 520.2h0M381.7 529.4h0M381.8 540.6h0M381.9 562h0M382.1 537h0M382.2 513.3h0M382.3 521.2h0M382.5 491h0M382.6 534.2h0M382.7 565.8h0M382.9 503.5h0M383 497.3h0M383.1 543.6h0M383.3 553.8h0M383.4 518.6h0M383.6 506.1h0M383.7 545.1h0M383.8 523.9h0M383.9 538h0M384.1 544.3h0M384.2 545.8h0M384.3 521.5h0M384.5 529.7h0M384.6 534.2h0M384.8 576.7h0M384.9 479.6h0M385 532.8h0M385.2 519h0M385.3 542.3h0M385.5 515.1h0M385.6 553h0M385.7 520.7h0M385.9 532.3h0M386 513.7h0M386.1 556.9h0M386.3 548.6h0M386.4 540.8h0M386.5 495.2h0M386.7 564.2h0M386.8 524.1h0M386.9 542.7h0M387.1 531.3h0M387.2 524h0M387.3 531.3h0M387.5 528.5h0M387.6 526.5h0M387.8 543.2h0M387.9 541h0M388 579.1h0M388.2 548.5h0M388.3 557.6h0M388.4 544.1h0M388.6 524h0M388.7 530.7h0M388.8 522.6h0M389 513.9h0M389.1 583.9h0M389.3 530.2h0M389.4 538h0M389.5 536.7h0M389.7 558.1h0M389.8 519.4h0M390 512.3h0M390.1 513h0M390.2 531.6h0M390.3 512.9h0M390.5 499.1h0M390.6 479.6h0M390.8 496.7h0M390.9 521.3h0M391 522.3h0M391.1 517.2h0M391.3 521h0M391.4 532.5h0M391.6 504.7h0M391.7 538.5h0M391.8 538.7h0M392 518.7h0M392.1 537.7h0M392.2 532.4h0M392.4 568.7h0M392.5 515h0M392.6 528.9h0M392.8 539.6h0M392.9 528.3h0M393.1 534.6h0M393.2 545.9h0M393.3 488.5h0M393.4 540.1h0M393.6 514.3h0M393.7 496.1h0M393.9 547.8h0M394 524h0M394.1 553.3h0M394.3 514.2h0M394.4 551h0M394.5 560.9h0M394.7 513.8h0M394.8 514.5h0M394.9 552.8h0M395.1 505.9h0M395.2 524.9h0M395.4 469.1h0M395.5 489.7h0M395.6 547.5h0M395.8 543.6h0M395.9 560.9h0M396 535.2h0M396.2 533.9h0M396.3 519.2h0M396.4 530h0M396.6 560.5h0M396.7 549h0M396.9 495.9h0M397 500.5h0M397.1 528.4h0M397.3 533.7h0M397.4 536.5h0M397.5 532h0M397.7 566.8h0M397.8 515.8h0M398 547h0M398.1 534.3h0M398.2 587.7h0M398.3 536.7h0M398.5 516.2h0M398.6 590h0M398.8 508.8h0M398.9 527h0M399 550.3h0M399.2 571.3h0M399.3 515.9h0M399.5 530h0M399.6 517.7h0M399.7 540.7h0M399.8 552.3h0M400 517.2h0M400.1 552.2h0M400.3 514h0M400.4 563.2h0M400.5 553.4h0M400.7 557.5h0M400.8 505.7h0M400.9 567.3h0M401.1 552.4h0M401.2 511.2h0M401.3 516.8h0M401.5 474.2h0M401.6 477.3h0M401.8 504h0M401.9 500.7h0M402 547.3h0M402.2 532.7h0M402.3 528.1h0M402.4 529.4h0M402.6 548.6h0M402.7 535.4h0M402.8 536.2h0M403 497.2h0M403.1 509.2h0M403.3 521.5h0M403.4 528.8h0M403.5 519.9h0M403.6 541.1h0M403.8 531.1h0M403.9 560.6h0M404.1 513.3h0M404.2 506.3h0M404.3 528.5h0M404.5 513.5h0M404.6 513h0M404.7 476.2h0M404.9 517h0M405 547.1h0M405.2 534.3h0M405.3 492.9h0M405.4 487.3h0M405.6 499.9h0M405.7 499h0M405.8 514.5h0M406 546.2h0M406.1 536.4h0M406.2 560.1h0M406.4 530.4h0M406.5 552.6h0M406.7 519h0M406.8 529.4h0M406.9 570.5h0M407 516.8h0M407.2 512.6h0M407.3 557.5h0M407.5 528.3h0M407.6 513.1h0M407.7 532.7h0M407.9 511.4h0M408 524.4h0M408.1 507.1h0M408.3 522.7h0M408.4 529.4h0M408.5 518.8h0M408.7 514.8h0M408.8 527h0M408.9 539.3h0M409.1 544.6h0M409.2 539.1h0M409.4 543.5h0M409.5 526h0M409.6 522.2h0M409.8 526.6h0M409.9 517.6h0M410 514.9h0M410.2 484.4h0M410.3 494.1h0M410.4 535.3h0M410.6 514.8h0M410.7 528.7h0M410.9 523.2h0M411 526.3h0M411.1 536h0M411.3 554.6h0M411.4 578.4h0M411.5 522h0M411.7 498.3h0M411.8 554.3h0M411.9 522.1h0M412.1 535.8h0M412.2 517.2h0M412.3 538.4h0M412.5 524.6h0M412.6 524.6h0M412.8 571.9h0M412.9 517.1h0M413 529.2h0M413.2 580.4h0M413.3 515.2h0M413.4 534.3h0M413.6 528.6h0M413.7 530.6h0M413.8 544.7h0M414 557.3h0M414.1 545.8h0M414.3 548.1h0M414.4 494.5h0M414.5 509.6h0M414.7 557.1h0M414.8 553.2h0M414.9 531.7h0M415.1 527.6h0M415.2 553h0M415.3 552.9h0M415.5 485.3h0M415.6 505.5h0M415.8 555.2h0M415.9 555.5h0M416 535h0M416.1 518.2h0M416.3 515.6h0M416.4 531.7h0M416.6 549.3h0M416.7 513.3h0M416.8 500.3h0M417 506.9h0M417.1 524h0M417.2 505.6h0M417.4 513.8h0M417.5 533.5h0M417.7 508h0M417.8 538.5h0M417.9 491h0M418 505.3h0M418.2 527.1h0M418.3 508.7h0M418.5 495.6h0M418.6 565.9h0M418.8 519.4h0M418.9 485.5h0M419 552.7h0M419.1 528.7h0M419.3 555.2h0M419.4 531.3h0M419.6 583.3h0M419.7 572.3h0M419.8 550.8h0M419.9 528.4h0M420.1 523.3h0M420.2 521.2h0M420.4 497.3h0M420.5 509.8h0M420.6 513.1h0M420.8 546.7h0M420.9 534.5h0M421 463.4h0M421.2 477.8h0M421.3 512.1h0M421.4 515.8h0M421.6 503.7h0M421.7 537.1h0M421.9 490.5h0M422 537.8h0M422.1 532.7h0M422.3 488.6h0M422.4 570.5h0M422.5 521.9h0M422.7 563.9h0M422.8 543.2h0M422.9 532.2h0M423.1 542.7h0M423.2 527.3h0M423.4 548.3h0M423.5 529.1h0M423.6 556.3h0M423.8 541.1h0M423.9 559.6h0M424 516.2h0M424.2 559.3h0M424.3 517.8h0M424.4 545.5h0M424.6 542.1h0M424.7 520.5h0M424.9 540.5h0M425 575.8h0M425.1 521.3h0M425.3 588.9h0M425.4 524h0M425.5 536h0M425.7 558.5h0" fill="none" stroke="#1b75bb" stroke-width="5.4" stroke-linecap="round"/>
<path d="M425.8 527.7h0M425.9 536h0M426.1 500.3h0M426.2 546.6h0M426.4 493.8h0M426.5 501.6h0M426.6 546.9h0M426.8 547.9h0M426.9 500.8h0M427 540h0M427.2 539.7h0M427.3 546.7h0M427.4 568.1h0M427.6 549h0M427.7 562.5h0M427.8 567.3h0M428 547.9h0M428.1 507.9h0M428.2 513.5h0M428.4 552.2h0M428.5 548h0M428.7 537.9h0M428.8 523.1h0M428.9 541.3h0M429.1 551h0M429.2 543.6h0M429.3 502.8h0M429.5 467.4h0M429.6 536.3h0M429.7 560h0M429.9 497.8h0M430 510.6h0M430.1 508.6h0M430.3 495.1h0M430.4 525h0M430.6 553.9h0M430.7 565.4h0M430.8 526h0M431 545.9h0M431.1 520.3h0M431.2 556.2h0M431.4 532.7h0M431.5 556.4h0M431.6 532.7h0M431.8 529.3h0M431.9 503.7h0M432 492h0M432.2 524.2h0M432.3 545.9h0M432.5 486.1h0M432.6 518.3h0M432.7 519.9h0M432.9 513.3h0M433 487.7h0M433.1 496.1h0M433.3 500.5h0M433.4 493.9h0M433.6 530.8h0M433.7 522.8h0M433.8 512.4h0M434 515.7h0M434.1 521.7h0M434.2 518.2h0M434.4 520.3h0M434.5 530.1h0M434.7 552.2h0M434.8 502.7h0M434.9 513.6h0M435 536.8h0M435.2 497.9h0M435.3 500.4h0M435.5 509.8h0M435.6 547.3h0M435.7 539.9h0M435.9 529.1h0M436 488.7h0M436.1 539.7h0M436.3 528.4h0M436.4 546.7h0M436.5 536.5h0M436.7 524.7h0M436.8 578.7h0M436.9 589.4h0M437.1 516.2h0M437.2 524.3h0M437.3 541.4h0M437.5 508.1h0M437.6 509.6h0M437.8 575.5h0M437.9 531.1h0M438 511.9h0M438.2 545.9h0M438.3 535.1h0M438.4 508h0M438.6 533.5h0M438.7 554h0M438.9 540.3h0M439 553.8h0M439.1 517.2h0M439.2 564.8h0M439.4 503h0M439.5 558.1h0M439.7 522.4h0M439.8 554.1h0M439.9 531.9h0M440.1 505.4h0M440.2 510.5h0M440.3 506.6h0M440.5 531.7h0M440.6 528.7h0M440.7 529.1h0M440.9 516.8h0M441 537.4h0M441.2 504.7h0M441.3 519.3h0M441.4 499.2h0M441.6 513.8h0M441.7 513.1h0M441.9 536.2h0M442 529.9h0M442.1 552.1h0M442.2 530.4h0M442.4 523.5h0M442.5 508.1h0M442.7 547.7h0M442.8 453.2h0M442.9 517.4h0M443 486.6h0M443.2 493h0M443.3 565h0M443.5 513.6h0M443.6 479.9h0M443.7 563.4h0M443.9 498.9h0M444 532.4h0M444.2 529.6h0M444.3 516.3h0M444.4 569.5h0M444.6 523.1h0M444.7 549.5h0M444.8 554.9h0M445 521.8h0M445.1 462.4h0M445.2 530.4h0M445.4 528.6h0M445.5 541.9h0M445.7 561.5h0M445.8 537.5h0M445.9 506h0M446.1 530.2h0M446.2 514.6h0M446.3 533.1h0M446.4 472.7h0M446.6 557.7h0M446.7 509.1h0M446.9 510.4h0M447 519.7h0M447.1 559.3h0M447.3 556.5h0M447.4 537.1h0M447.5 521.9h0M447.7 557.7h0M447.8 550.8h0M448 519.7h0M448.1 509.2h0M448.2 546.1h0M448.4 547h0M448.5 547.2h0M448.7 475.1h0M448.8 516.8h0M448.9 526.7h0M449 499.1h0M449.2 470.3h0M449.3 495.5h0M449.4 546.7h0M449.6 519.6h0M449.7 525.7h0M449.8 526.6h0M450 548.5h0M450.1 542.9h0M450.3 554.2h0M450.4 527.9h0M450.5 530.5h0M450.7 554.2h0M450.8 565.8h0M450.9 536h0M451.1 512.4h0M451.2 514h0M451.3 530.8h0M451.5 599.5h0M451.6 538.8h0M451.7 538.4h0M451.9 521.9h0M452 540.8h0M452.2 526.6h0M452.3 524h0M452.4 454h0M452.6 498.5h0M452.7 518.6h0M452.9 514.9h0M453 515h0M453.1 512h0M453.3 526.2h0M453.4 511.6h0M453.5 484.7h0M453.7 489.1h0M453.8 501.2h0M453.9 482.1h0M454.1 503.4h0M454.2 532.9h0M454.3 550.2h0M454.5 530.9h0M454.6 520.8h0M454.7 511.5h0M454.9 497.6h0M455 535.7h0M455.2 541.2h0M455.3 507.5h0M455.4 500.9h0M455.6 538.8h0M455.7 521.7h0M455.8 496.6h0M456 514.9h0M456.1 522.7h0M456.2 567.4h0M456.4 495.2h0M456.5 502.7h0M456.7 511.3h0M456.8 528.8h0M456.9 546.4h0M457.1 524.6h0M457.2 526.5h0M457.3 507.5h0M457.5 556.2h0M457.6 504.4h0M457.7 535.8h0M457.9 504.4h0M458 546.3h0M458.1 521.6h0M458.3 506.7h0M458.4 533.1h0M458.5 573.3h0M458.7 551.2h0M458.8 532h0M459 575.6h0M459.1 571.7h0M459.2 534.7h0M459.4 560.7h0M459.5 517.8h0M459.6 554.1h0M459.8 567.6h0M459.9 537.7h0M460 484.8h0M460.2 538.7h0M460.3 519.8h0M460.5 516.7h0M460.6 548.2h0M460.7 497.2h0M460.9 511.5h0M461 511.8h0M461.1 555.8h0M461.3 564.1h0M461.4 581.4h0M461.5 527.3h0M461.7 529.5h0M461.8 504.5h0M461.9 488.9h0M462.1 527.5h0M462.2 524.7h0M462.3 511.3h0M462.5 485.5h0M462.6 536.4h0M462.8 503.1h0M462.9 520.3h0M463.1 520.2h0M463.2 500.9h0M463.3 528.6h0M463.4 536.6h0M463.6 494.1h0M463.7 512.9h0M463.9 520.4h0M464 519.8h0M464.1 502.8h0M464.3 524.2h0M464.4 499.4h0M464.5 513.9h0M464.6 493.4h0M464.8 497.2h0M464.9 506.6h0M465.1 536.5h0M465.2 527.2h0M465.3 545.7h0M465.5 464.2h0M465.6 530.5h0M465.8 505.2h0M465.9 486.4h0M466 543.7h0M466.2 535.3h0M466.3 527.4h0M466.4 539.1h0M466.6 553.3h0M466.7 533.4h0M466.8 499.8h0M467 512.8h0M467.1 537.8h0M467.2 535h0M467.4 567.1h0M467.5 515.3h0M467.6 519.4h0M467.8 552.7h0M467.9 524.3h0M468.1 527.9h0M468.2 536.7h0M468.3 544.8h0M468.5 535.6h0M468.6 542.6h0M468.7 512.2h0M468.9 513.8h0M469 517.1h0M469.1 518.6h0M469.3 526.2h0M469.4 468.2h0M469.6 548.6h0M469.7 493.1h0M469.8 510.8h0M469.9 513.6h0M470.1 523.9h0M470.2 522.5h0M470.4 542.9h0M470.5 552.7h0M470.6 529.9h0M470.8 563.5h0M470.9 509.5h0M471 497.2h0M471.2 593.3h0M471.3 549.6h0M471.5 516.4h0M471.6 522.6h0M471.7 526.5h0M471.9 512.8h0M472 511.5h0M472.1 515h0M472.3 494.9h0M472.4 527.1h0M472.5 515.5h0M472.7 568.7h0M472.8 541.4h0M473 557.7h0M473.1 498.8h0M473.2 477.5h0M473.4 515.7h0M473.5 555.7h0M473.6 529.7h0M473.8 529.1h0M473.9 528.6h0M474 513.4h0M474.2 515.2h0M474.3 594h0M474.5 504h0M474.6 551.2h0M474.7 548.9h0M474.8 503.7h0M475 534h0M475.1 558.2h0M475.3 562.9h0M475.4 536.2h0M475.5 512.6h0M475.7 500.6h0M475.8 537.2h0M475.9 545.1h0M476.1 499.9h0M476.2 544.3h0M476.3 508.8h0M476.5 535.8h0M476.6 530.4h0M476.8 533.9h0M476.9 522.8h0M477 540.7h0M477.2 539.5h0M477.3 528.7h0M477.4 544.4h0M477.6 524.1h0M477.7 525.6h0M477.9 526.8h0M478 527.9h0M478.1 526.6h0M478.2 486.5h0M478.4 519.5h0M478.5 531.6h0M478.7 525h0M478.8 509.2h0M478.9 529.1h0M479.1 529.5h0M479.2 545.8h0M479.3 532.1h0M479.5 526.5h0M479.6 525.3h0M479.7 570.1h0M479.9 557.1h0M480 588.5h0M480.2 520.1h0M480.3 512h0M480.4 506.6h0M480.6 530.3h0M480.7 514h0M480.8 538.6h0M481 544.3h0M481.1 571.6h0M481.2 549.1h0M481.4 541h0M481.5 510h0M481.7 496.1h0M481.8 543.1h0M481.9 523.2h0M482 527.4h0M482.2 551.1h0M482.3 580.3h0M482.5 561.3h0M482.6 577.1h0M482.7 553.3h0M482.9 542.9h0M483 547.7h0M483.1 550.9h0M483.3 532.7h0M483.4 565h0M483.6 525.1h0M483.7 577.1h0M483.8 538.7h0M484 533.5h0M484.1 553.5h0M484.2 563.7h0M484.4 519.8h0M484.5 548.1h0M484.6 512.8h0M484.8 513.6h0M484.9 533.6h0M485 534.5h0M485.2 509.5h0M485.3 526h0M485.4 552.1h0M485.6 526.6h0M485.7 520.6h0M485.9 525.3h0M486 522.7h0M486.1 525.9h0M486.3 522h0M486.4 545.9h0M486.5 552.9h0M486.7 496.8h0M486.8 531h0M486.9 517h0M487.1 550.5h0M487.2 514.6h0M487.4 540.9h0M487.5 455.8h0M487.6 544.1h0M487.8 547.3h0M487.9 505.3h0M488 503.7h0M488.2 570.9h0M488.3 521.8h0M488.4 507.5h0M488.6 548.8h0M488.7 508.9h0M488.8 531.5h0M489 538.8h0M489.1 529.2h0M489.2 528.7h0M489.4 546.7h0M489.5 470.3h0M489.7 523.8h0M489.8 524.7h0M489.9 489.6h0M490.1 516.8h0M490.2 486.4h0M490.4 522h0M490.5 510.9h0M490.6 515.8h0M490.8 516.4h0M490.9 518.6h0M491 516.5h0M491.2 480h0M491.3 527.9h0M491.4 523.2h0M491.6 515.7h0M491.7 495.7h0M491.8 501.2h0M492 491.1h0M492.1 549.1h0M492.2 521.6h0M492.4 526.7h0M492.5 530.6h0M492.7 514.2h0M492.8 553h0M492.9 512h0M493.1 514.4h0M493.2 537.2h0M493.3 514h0M493.5 479.2h0M493.6 522.4h0M493.7 503.8h0M493.9 523.1h0M494 536.3h0M494.2 536.4h0M494.3 529.4h0M494.4 492.1h0M494.6 505.7h0M494.7 536.1h0M494.8 499.4h0M495 526.8h0M495.1 538.3h0M495.2 517.8h0M495.4 549.3h0M495.5 558.2h0M495.7 505.1h0M495.8 568.1h0M495.9 515h0M496 560.9h0M496.2 524.8h0M496.3 525h0M496.4 535.7h0M496.6 570.4h0M496.7 525h0M496.9 526.7h0M497 542.6h0M497.1 522.4h0M497.3 503.4h0M497.4 547.4h0M497.5 524.7h0M497.7 556.8h0M497.8 530.6h0M497.9 525.5h0M498.1 494.8h0M498.2 527.2h0M498.3 529.3h0M498.5 518.7h0M498.7 565.2h0M498.8 523.6h0M498.9 557.2h0M499 560.4h0M499.2 519.7h0M499.3 536.2h0M499.4 514.9h0M499.6 576.6h0M499.7 540.1h0M499.8 550.4h0M500 548.5h0M500.1 579.5h0M500.3 517.2h0M500.4 539.2h0M500.5 558.2h0M500.7 564.8h0M500.8 545h0M500.9 490.5h0M501.1 523.5h0M501.2 529.5h0M501.3 516.4h0M501.5 531.8h0M501.6 523.4h0M501.8 513.5h0M501.9 523.4h0M502 512.1h0M502.2 552.4h0M502.3 522.2h0M502.4 531.2h0M502.6 522.5h0M502.7 525.2h0M502.8 529.7h0M503 532.8h0M503.1 510.2h0M503.2 539.3h0M503.4 553h0M503.5 509.6h0M503.7 496.9h0M503.8 515.8h0M503.9 512.2h0M504.1 531h0M504.2 519.9h0M504.3 489.7h0M504.5 496.6h0M504.6 507.9h0M504.7 521.1h0M504.9 549.7h0M505 512.1h0M505.1 510.8h0M505.3 500.7h0M505.4 485h0M505.6 514.6h0M505.7 501.6h0M505.8 540.9h0M506 497.2h0M506.1 512.2h0M506.3 503.9h0M506.4 518.2h0M506.5 519h0M506.6 493.1h0M506.8 533.1h0M506.9 500.3h0M507.1 489.5h0M507.2 529.2h0M507.3 541.1h0M507.5 506.1h0M507.6 515.5h0M507.7 509.3h0M507.9 506.6h0M508 535.5h0M508.2 509.7h0M508.3 496.9h0M508.4 523.6h0M508.5 521.6h0M508.7 540.6h0M508.8 504h0M509 485.1h0M509.1 559.4h0M509.2 509h0M509.4 511.7h0M509.5 539h0M509.7 535.8h0M509.8 551.8h0M509.9 547.7h0M510.1 527.7h0M510.2 513.4h0M510.3 522.1h0M510.5 506.8h0M510.6 525.7h0M510.7 560.8h0M510.9 497.9h0M511 507.1h0M511.1 551.9h0M511.3 494.7h0M511.4 527h0M511.6 529.9h0M511.7 488.4h0M511.8 578.7h0M511.9 556.1h0M512.1 513.8h0M512.2 538.1h0M512.4 552.6h0M512.5 500.8h0M512.6 521.6h0M512.8 555.7h0M512.9 545.4h0M513.1 521.9h0M513.2 499.3h0M513.3 577.6h0M513.4 526.6h0M513.6 530.7h0M513.7 558.9h0M513.9 524h0M514 557.8h0M514.1 532.1h0M514.3 486.4h0M514.4 508.8h0M514.6 500.1h0M514.7 509.2h0M514.8 512.4h0M515 498.2h0M515.1 536.9h0M515.2 528.5h0M515.4 504h0M515.5 528.5h0M515.6 525.2h0M515.8 493.6h0M515.9 480.3h0M516 516.1h0M516.2 522.1h0M516.3 497.7h0M516.4 508h0M516.6 530.3h0M516.7 508.1h0M516.9 512.5h0M517 521.7h0M517.1 462.3h0M517.2 493.4h0M517.4 504.9h0M517.5 505.6h0M517.7 462.2h0M517.8 500h0M517.9 540.2h0M518.1 519.6h0M518.2 523.3h0M518.3 536.3h0M518.5 519.6h0M518.6 516.7h0M518.7 519.1h0M518.9 530h0M519 503.2h0M519.1 558.4h0M519.3 508.7h0M519.4 523.6h0M519.6 514.7h0M519.7 569.6h0M519.8 486h0M519.9 560.2h0M520.1 541.3h0M520.2 514.4h0M520.4 539.6h0M520.5 535.1h0M520.6 576.5h0M520.8 537.3h0M520.9 524.2h0M521 511.7h0M521.2 533.6h0M521.3 520.9h0M521.5 510.1h0M521.6 533h0M521.7 532.1h0M521.9 478.9h0M522 539.4h0M522.1 503.7h0M522.3 528h0M522.4 502.8h0M522.6 545.4h0M522.7 528.7h0M522.8 534.6h0M522.9 544.2h0M523.1 530h0M523.2 557.8h0M523.4 543.4h0M523.5 538.3h0M523.6 510.4h0M523.8 527.4h0M523.9 565.3h0M524 546.5h0M524.2 537.4h0M524.3 552.2h0M524.4 502.9h0M524.6 517.9h0M524.7 508.2h0M524.9 538.2h0M525 537.9h0M525.1 498.2h0M525.3 550.8h0M525.4 516.2h0M525.5 516.2h0M525.7 526.7h0M525.8 511.4h0M525.9 539.3h0M526.1 511.8h0M526.2 539.9h0M526.3 546.7h0M526.5 492.2h0M526.6 537.3h0M526.8 568.2h0M526.9 506.5h0M527.1 547.7h0M527.2 602.8h0M527.3 529h0M527.4 503.6h0M527.6 516.1h0M527.7 490.3h0M527.8 534.4h0M528 518.2h0M528.1 552.4h0M528.3 519.4h0M528.4 481.9h0M528.5 498.3h0M528.7 510.6h0M528.8 561.9h0M528.9 529.8h0M529.1 552.7h0M529.2 503.8h0M529.3 535.5h0M529.5 514.5h0M529.6 543.4h0M529.7 478.2h0M529.9 546.7h0M530 517.6h0M530.1 471.1h0M530.3 522.3h0M530.4 547.5h0M530.6 514.7h0M530.7 505.9h0M530.8 503.5h0M531 560.6h0M531.1 517.8h0M531.2 572.3h0M531.4 490.9h0M531.5 530.3h0M531.6 541.7h0M531.8 520.2h0M531.9 518.9h0M532.1 549.9h0M532.2 492h0M532.3 533h0M532.5 565.4h0M532.6 499h0M532.7 495.9h0M532.9 507.8h0M533 523.4h0M533.1 560.1h0M533.3 519.9h0M533.4 496.4h0M533.6 521.5h0M533.7 502.9h0M533.8 554.2h0M534 517.9h0M534.1 510.4h0M534.3 557.5h0M534.4 558.3h0M534.5 541h0M534.7 522.4h0M534.8 515.5h0M534.9 527.9h0M535 528.3h0M535.2 529.4h0M535.3 526.5h0M535.5 521.3h0M535.6 515.6h0M535.7 523.9h0M535.9 520.6h0M536 541.2h0M536.1 517.1h0M536.3 547h0M536.4 503h0M536.5 542.8h0M536.7 538.1h0M536.8 557.8h0M537 545.7h0M537.1 541.4h0M537.2 542.5h0M537.4 558.2h0M537.5 571.7h0M537.6 545.4h0M537.8 543.6h0M537.9 530.3h0M538 511.2h0M538.2 544h0M538.3 580.9h0M538.4 533.3h0M538.6 561.4h0M538.7 548.3h0M538.9 500.3h0M539 506.4h0M539.1 526.9h0M539.3 530h0M539.4 512.1h0M539.5 549.4h0M539.7 499.1h0M539.8 520.2h0M539.9 474.8h0M540.1 539.1h0M540.2 496.2h0M540.4 528.5h0M540.5 497.1h0M540.6 541.2h0M540.7 503.3h0M540.9 530.6h0M541 531h0M541.2 523.7h0M541.3 500.8h0M541.4 506.3h0M541.6 478.6h0M541.7 489.5h0M541.9 562.3h0M542 522.4h0M542.1 558.6h0M542.3 525.1h0M542.4 502.3h0M542.5 540.8h0M542.7 534.3h0M542.8 501.9h0M542.9 516.8h0M543.1 474.6h0M543.2 509.9h0M543.4 505.7h0M543.5 484.9h0M543.6 540h0M543.8 525.3h0M543.9 546.4h0M544 515.9h0M544.2 506.1h0M544.3 503.6h0M544.4 533h0M544.6 549.2h0M544.7 549.2h0M544.8 564.2h0M545 532.5h0M545.1 509.8h0M545.2 582.4h0M545.4 578.9h0M545.5 506.9h0M545.6 566.9h0M545.8 523h0M545.9 555.4h0M546 510.8h0M546.2 512.1h0M546.3 525.3h0M546.5 519.8h0M546.6 541.2h0M546.8 533.5h0M546.9 503.5h0M547 512.3h0M547.1 549.2h0M547.3 552.3h0M547.4 534.8h0M547.5 535.5h0M547.7 526h0M547.8 538.3h0M548 516.8h0M548.1 528.1h0M548.2 519.9h0M548.3 531.8h0M548.5 522.3h0M548.6 564.8h0M548.8 498.8h0M548.9 515.9h0M549.1 511h0M549.2 501.7h0M549.3 498h0M549.4 500.1h0M549.6 503.7h0M549.7 507.7h0M549.8 544.6h0M550 502.2h0M550.1 515.6h0M550.3 512.9h0M550.4 459.5h0M550.5 551.5h0M550.7 514.3h0M550.8 488.7h0M550.9 495.4h0M551.1 485.9h0M551.2 537.1h0M551.4 530.3h0M551.5 498.3h0M551.6 520.3h0M551.8 478.6h0M551.9 508.1h0M552 509.4h0M552.2 504.1h0M552.3 520.4h0M552.4 513.4h0M552.6 533.8h0M552.7 528.2h0M552.8 535.1h0M553 517.1h0M553.1 556.7h0M553.3 550.4h0M553.4 514.2h0M553.5 515.1h0M553.7 539.9h0M553.8 523.4h0M554 536.9h0M554.1 468.4h0M554.2 546.2h0M554.3 481.9h0M554.5 541.3h0M554.6 514.1h0M554.8 522.5h0M554.9 522.2h0M555 495.3h0M555.2 497.4h0M555.3 519.1h0M555.4 526.5h0M555.6 467.8h0M555.7 480.3h0M555.8 507.5h0M556 521.2h0M556.1 513.6h0M556.2 513.4h0M556.4 489.3h0M556.5 537.1h0M556.6 516.4h0M556.8 530.3h0M556.9 486.5h0M557.1 470.5h0M557.2 513.3h0M557.3 504.3h0M557.5 487.1h0M557.6 527.9h0M557.8 543.1h0M557.9 496.2h0M558 501.3h0M558.1 515.1h0M558.3 480.2h0M558.4 511.1h0M558.6 558.9h0M558.7 512.4h0M558.8 520.8h0M559 482.3h0M559.1 524.7h0M559.2 522.4h0M559.4 505.3h0M559.5 510.1h0M559.7 545.3h0M559.8 508.5h0M559.9 517.8h0M560.1 481.3h0M560.2 467.7h0M560.3 549.9h0M560.4 554.1h0M560.6 559.6h0M560.7 554h0M560.9 551.8h0M561 538.2h0M561.1 512.9h0M561.3 560.7h0M561.4 565.2h0M561.6 576.8h0M561.7 506.9h0M561.8 496h0M562 559.2h0M562.1 553.2h0M562.2 516.1h0M562.4 499.3h0M562.5 502.7h0M562.6 527.6h0M562.8 517.9h0M562.9 531h0M563 543.9h0M563.2 489.4h0M563.3 535h0M563.4 555.3h0M563.6 547.7h0M563.7 568.6h0M563.8 532.3h0M564 508.2h0M564.1 562.3h0M564.2 510.7h0M564.4 489.8h0M564.5 525h0M564.7 550.9h0M564.8 537.3h0M565 520.4h0M565.1 544.2h0M565.2 547.2h0M565.4 526.4h0M565.5 523.3h0M565.6 515.3h0M565.8 555.8h0M565.9 482.6h0M566 505h0M566.2 511.2h0M566.3 546.3h0M566.4 492.6h0M566.6 536.7h0M566.7 491.5h0M566.8 512.9h0M567 551.2h0M567.1 540.9h0M567.3 493.4h0M567.4 510.9h0M567.5 531.6h0M567.6 529.4h0M567.8 534.9h0M567.9 558.2h0M568.1 547.8h0M568.2 567.9h0M568.3 562.5h0M568.5 536.1h0M568.6 565.6h0M568.7 523.5h0M568.9 546.8h0M569 530.9h0M569.2 520.3h0M569.3 504.9h0M569.4 519.3h0M569.6 520.1h0M569.7 536.4h0M569.8 524.5h0M570 556.1h0M570.1 547.6h0M570.2 524.3h0M570.4 539.7h0M570.5 521.1h0M570.6 551.1h0M570.8 501.6h0M570.9 542.8h0M571.1 526.6h0M571.2 534.4h0M571.3 513.9h0M571.5 539.3h0M571.6 548h0M571.8 575h0M571.9 538.7h0M572 553.9h0M572.1 521.4h0M572.3 493.6h0M572.4 574.7h0M572.6 544.5h0M572.7 507.9h0M572.8 485.2h0M573 505.2h0M573.1 502h0M573.2 503.8h0M573.4 506.5h0M573.5 492.2h0M573.6 511.7h0M573.8 554.1h0M573.9 534.3h0M574 517.3h0M574.2 544.8h0M574.3 529.9h0M574.5 534.5h0M574.6 537.5h0M574.7 506h0M574.9 529.6h0M575 544.9h0M575.1 532.8h0M575.3 521.4h0M575.4 482.1h0M575.6 524.5h0M575.7 493.6h0M575.8 515.9h0M575.9 564.5h0M576.1 523.4h0M576.2 551.9h0M576.3 563.5h0M576.5 555.5h0M576.6 488h0M576.8 560.6h0M576.9 543.9h0M577 501.8h0M577.2 505.9h0M577.3 567.5h0M577.5 530.3h0M577.6 537.4h0M577.7 533.7h0M577.9 514.8h0M578 541.4h0M578.1 535.3h0M578.3 497.8h0M578.4 572.8h0M578.5 539.2h0M578.7 523.2h0M578.8 558.7h0M579 547.1h0M579.1 560.1h0M579.2 524.8h0M579.3 540.2h0M579.5 507.1h0M579.6 507.7h0M579.8 526.2h0M579.9 533.9h0M580 522.5h0M580.2 527.2h0M580.3 565.4h0M580.4 514.5h0M580.6 533h0M580.7 528.8h0M580.9 570.7h0M581 523.6h0M581.1 494.4h0M581.3 525.8h0M581.4 566.7h0M581.5 533.4h0M581.7 535.6h0M581.8 526.7h0M581.9 532.4h0M582.1 525.6h0M582.2 544.9h0M582.3 531.4h0M582.5 554.4h0M582.6 530.8h0M582.7 506.8h0M582.9 542.5h0M583 521.5h0M583.1 550.4h0M583.3 541.2h0M583.4 538.8h0M583.6 514h0M583.7 556.1h0M583.8 507.5h0M584 566.1h0M584.1 537.5h0M584.2 506.5h0M584.4 507.5h0M584.5 538.6h0M584.6 541.4h0M584.8 492.4h0M584.9 546.4h0M585 510.7h0M585.2 541.2h0M585.3 520.7h0M585.4 470.4h0M585.6 487.8h0M585.7 506.5h0M585.8 558.2h0M586 532.7h0M586.1 527.9h0M586.3 531.1h0M586.4 499.5h0M586.6 570.6h0M586.7 526.1h0M586.8 527.9h0M587 546.6h0M587.1 490.2h0M587.2 557.8h0M587.4 528h0M587.5 522.9h0M587.6 569.6h0M587.8 551.9h0M587.9 542.8h0M588.1 509.2h0M588.2 503.5h0M588.3 512.7h0M588.4 524.1h0M588.6 573.1h0M588.7 527.5h0" fill="none" stroke="#1b75bb" stroke-width="5.4" stroke-linecap="round"/>
<path d="M588.9 544.7h0M589 504.4h0M589.1 496.4h0M589.3 478.6h0M589.4 511.1h0M589.5 506.5h0M589.7 546.6h0M589.8 525.9h0M590 552.2h0M590.1 505.5h0M590.2 550.1h0M590.3 524.6h0M590.5 536.9h0M590.6 531.7h0M590.8 511.5h0M590.9 526h0M591 513.1h0M591.2 541.2h0M591.3 493.2h0M591.4 536h0M591.6 505.6h0M591.7 479.3h0M591.8 574.9h0M592 547.1h0M592.1 533.5h0M592.3 509.4h0M592.4 544h0M592.5 529h0M592.7 554.2h0M592.8 526.7h0M592.9 566.5h0M593.1 517.3h0M593.2 592.5h0M593.3 577.1h0M593.5 499.1h0M593.6 532.3h0M593.8 558.6h0M593.9 492.3h0M594 514.9h0M594.2 506.4h0M594.3 534.6h0M594.4 513.2h0M594.6 514.9h0M594.7 563.2h0M594.8 514.9h0M595 536.2h0M595.1 510.8h0M595.2 510.5h0M595.4 547.4h0M595.5 542.7h0M595.7 532.5h0M595.8 522.1h0M595.9 546.6h0M596.1 537.7h0M596.2 525.4h0M596.3 524.5h0M596.5 508.4h0M596.6 525.3h0M596.8 545.6h0M596.9 572.4h0M597 516.4h0M597.1 534.3h0M597.3 534.3h0M597.4 528.7h0M597.5 555.1h0M597.7 531.9h0M597.8 579h0M597.9 527.2h0M598.1 533.4h0M598.2 469.2h0M598.4 505.4h0M598.5 517.5h0M598.7 516h0M598.8 504.7h0M598.9 538.4h0M599.1 524.7h0M599.2 526.7h0M599.3 460.4h0M599.4 516.4h0M599.6 558.2h0M599.7 497.3h0M599.9 459.3h0M600 542.3h0M600.1 448.4h0M600.3 520.2h0M600.4 494.4h0M600.5 529.6h0M600.7 525h0M600.8 545h0M600.9 540h0M601.1 561.8h0M601.2 483.3h0M601.3 537.6h0M601.5 497.6h0M601.6 512.3h0M601.8 530.4h0M601.9 519.3h0M602 514.8h0M602.2 528.4h0M602.3 512.9h0M602.4 518h0M602.6 546.6h0M602.7 549.5h0M602.9 536.6h0M603 518.9h0M603.1 481.9h0M603.3 482.5h0M603.4 502.6h0M603.5 494.4h0M603.7 517.3h0M603.8 495.9h0M603.9 521.9h0M604.1 514.3h0M604.2 538h0M604.4 530.5h0M604.5 490.5h0M604.6 561.6h0M604.7 533.4h0M604.9 546.5h0M605 513.4h0M605.2 490.4h0M605.3 535.5h0M605.4 587.7h0M605.6 507.7h0M605.7 508.4h0M605.9 555.9h0M606 526.5h0M606.1 520.6h0M606.3 568.5h0M606.4 505.7h0M606.5 517.4h0M606.7 526.8h0M606.8 558.5h0M606.9 547.6h0M607.1 545.8h0M607.2 521.8h0M607.3 551.4h0M607.5 494.1h0M607.6 512.3h0M607.7 571.5h0M607.9 484.3h0M608 515.5h0M608.2 535.6h0M608.3 520.9h0M608.4 567.3h0M608.6 523.6h0M608.7 580.1h0M608.8 555.2h0M609 505.5h0M609.1 509.7h0M609.2 543.6h0M609.4 559.3h0M609.5 514.6h0M609.7 538.7h0M609.8 533.8h0M609.9 520.9h0M610 556.4h0M610.2 513.7h0M610.3 577.6h0M610.5 493.9h0M610.6 555.4h0M610.7 536.5h0M610.9 540.6h0M611 513.8h0M611.1 506h0M611.3 518.5h0M611.4 519.6h0M611.6 519.6h0M611.7 526.9h0M611.8 572.6h0M612 581.4h0M612.1 586.5h0M612.2 538.4h0M612.4 534.7h0M612.5 531.7h0M612.7 524.3h0M612.8 533.9h0M612.9 549.4h0M613 560.8h0M613.2 574.1h0M613.3 509.2h0M613.5 506.9h0M613.6 560h0M613.7 530.8h0M613.9 517.9h0M614 486.9h0M614.1 533.2h0M614.3 517.4h0M614.4 487.9h0M614.5 557.1h0M614.7 536.5h0M614.8 525h0M615 543.4h0M615.1 481.7h0M615.2 512.9h0M615.3 528.5h0M615.5 547.2h0M615.6 513.5h0M615.8 523h0M615.9 551.2h0M616.1 549.9h0M616.2 567.3h0M616.3 532.7h0M616.5 509.3h0M616.6 505.2h0M616.7 504.8h0M616.8 504.7h0M617 540.9h0M617.1 538.2h0M617.3 500h0M617.4 517.5h0M617.5 548.4h0M617.7 524.4h0M617.8 517.2h0M617.9 521.8h0M618.1 535.9h0M618.2 552.8h0M618.4 525.6h0M618.5 494.1h0M618.6 520.5h0M618.7 540.9h0M618.9 518.2h0M619 554.1h0M619.1 521.5h0M619.3 534.2h0M619.4 506.7h0M619.6 533.4h0M619.7 512.5h0M619.8 481h0M620 544h0M620.1 557.8h0M620.2 525.4h0M620.4 531.5h0M620.5 526.4h0M620.6 540.7h0M620.8 507.9h0M620.9 514h0M621 566.3h0M621.2 526.8h0M621.3 510.5h0M621.5 491.7h0M621.6 533.5h0M621.7 539.9h0M621.9 495.8h0M622 536h0M622.2 521.5h0M622.3 514.5h0M622.4 514.7h0M622.6 523.4h0M622.7 543.5h0M622.8 491.2h0M622.9 524.9h0M623.1 527.4h0M623.2 470.1h0M623.4 492.9h0M623.5 544.5h0M623.6 530.7h0M623.8 530.1h0M623.9 541.6h0M624 570.2h0M624.2 503h0M624.3 502h0M624.5 514.5h0M624.6 523.8h0M624.7 511.6h0M624.9 506h0M625 544.5h0M625.1 530.7h0M625.3 535.7h0M625.4 504.9h0M625.5 515.5h0M625.7 550.7h0M625.8 532h0M626 478.9h0M626.1 536.4h0M626.2 512.1h0M626.4 535.6h0M626.5 499.1h0M626.6 534.6h0M626.8 537.5h0M626.9 552h0M627 533.3h0M627.2 513.4h0M627.3 514.8h0M627.4 559h0M627.6 493.8h0M627.7 536.8h0M627.9 558.5h0M628 525.2h0M628.1 545.4h0M628.3 543.9h0M628.4 539.3h0M628.5 534.7h0M628.7 540.3h0M628.8 566.3h0M628.9 517.5h0M629.1 539.1h0M629.2 505.8h0M629.4 528.6h0M629.5 517.9h0M629.6 528.1h0M629.8 499.4h0M629.9 530.5h0M630 544.3h0M630.2 513.4h0M630.3 578.5h0M630.5 521.2h0M630.6 507.7h0M630.7 517.9h0M630.9 483.9h0M631 499.3h0M631.1 513h0M631.3 523.7h0M631.4 489.8h0M631.5 522.3h0M631.6 515h0M631.8 491.1h0M631.9 488.4h0M632.1 457.8h0M632.2 508.2h0M632.3 545.1h0M632.5 492.8h0M632.6 485.8h0M632.7 517.8h0M632.9 482.3h0M633 481.8h0M633.2 535.6h0M633.3 532.9h0M633.4 552.5h0M633.6 520.3h0M633.7 516.5h0M633.8 511.3h0M634 548.3h0M634.1 534.2h0M634.2 549.8h0M634.4 550.3h0M634.5 548.3h0M634.7 556h0M634.8 523.7h0M634.9 516.7h0M635.1 512h0M635.2 525h0M635.3 532.8h0M635.5 521.8h0M635.6 507.9h0M635.7 530h0M635.9 524.8h0M636 543.4h0M636.2 550.9h0M636.3 532.8h0M636.4 555.2h0M636.5 506.6h0M636.7 553.7h0M636.8 507.9h0M637 553.6h0M637.1 491.6h0M637.2 506h0M637.3 536.6h0M637.5 533h0M637.6 546.5h0M637.8 519.5h0M637.9 513.2h0M638 466.3h0M638.2 560.6h0M638.3 502.6h0M638.4 551h0M638.6 532.5h0M638.7 511.2h0M638.8 516.5h0M639 518.7h0M639.1 531.5h0M639.3 518.7h0M639.4 513.7h0M639.5 487.5h0M639.7 548.9h0M639.8 530.1h0M639.9 551.5h0M640.1 546.2h0M640.2 545.4h0M640.4 499.8h0M640.5 474.5h0M640.6 492.7h0M640.8 550.9h0M640.9 534.9h0M641 562.7h0M641.2 525.7h0M641.3 504.1h0M641.4 530.8h0M641.6 532.4h0M641.7 551.5h0M641.8 593.3h0M642 592h0M642.1 550.5h0M642.3 531.2h0M642.4 521.6h0M642.5 557h0M642.7 541.7h0M642.8 535.2h0M642.9 519.4h0M643.1 540.7h0M643.2 560.7h0M643.3 515.6h0M643.5 526.2h0M643.6 523.2h0M643.8 559.4h0M643.9 527.4h0M644 569.4h0M644.2 572.1h0M644.3 533.9h0M644.4 541.7h0M644.6 521.6h0M644.7 497h0M644.8 531.2h0M645 492.3h0M645.1 546.4h0M645.2 519.2h0M645.4 558.8h0M645.5 519h0M645.6 523.8h0M645.8 520.3h0M645.9 500.9h0M646.1 557.6h0M646.2 516.8h0M646.3 542.4h0M646.5 516.5h0M646.6 512.5h0M646.7 532.5h0M646.9 535.2h0M647 551.4h0M647.1 516.4h0M647.3 542.8h0M647.4 517.5h0M647.6 552.9h0M647.7 497.2h0M647.8 548.1h0M648 503.3h0M648.1 539.8h0M648.2 511.3h0M648.4 524.1h0M648.5 508.2h0M648.6 521.3h0M648.8 494.2h0M648.9 503.2h0M649 505.7h0M649.2 482.7h0M649.3 535.9h0M649.4 492.7h0M649.6 520.7h0M649.7 557.4h0M649.9 514.3h0M650 525.4h0M650.1 487h0M650.3 536.3h0M650.4 523.1h0M650.5 522.2h0M650.7 565.3h0M650.8 510h0M651 552.4h0M651.1 502.1h0M651.2 500.1h0M651.4 532.3h0M651.5 562.4h0M651.7 528.4h0M651.8 530.6h0M651.9 518.2h0M652 541h0M652.2 556.8h0M652.3 529.6h0M652.4 544.3h0M652.6 481.2h0M652.7 532.2h0M652.9 532.2h0M653 521.5h0M653.1 551h0M653.3 530.6h0M653.4 520.8h0M653.6 525.2h0M653.7 522.5h0M653.8 492.3h0M653.9 509.5h0M654.1 543.9h0M654.2 523.7h0M654.4 498.3h0M654.5 533.2h0M654.6 516.1h0M654.8 517.2h0M654.9 509.7h0M655 518.6h0M655.2 522.5h0M655.3 535.1h0M655.4 510.3h0M655.6 538.5h0M655.7 484.3h0M655.8 525.1h0M656 526.9h0M656.1 505.9h0M656.3 526.6h0M656.4 519.4h0M656.5 520.1h0M656.6 534.8h0M656.8 538.8h0M656.9 527.8h0M657.1 489.8h0M657.2 527.8h0M657.4 522.4h0M657.5 530.1h0M657.6 513.3h0M657.8 484.5h0M657.9 544.2h0M658 511.5h0M658.2 523.1h0M658.3 534.9h0M658.4 513.8h0M658.6 553.8h0M658.7 514.3h0M658.8 524.3h0M659 549.5h0M659.1 491.3h0M659.3 503.4h0M659.4 491.7h0M659.5 547.4h0M659.6 523.2h0M659.8 537.9h0M659.9 511.6h0M660.1 496.4h0M660.2 562.2h0M660.3 515.6h0M660.5 517.9h0M660.6 489h0M660.7 513.4h0M660.9 541.7h0M661 522.7h0M661.1 543h0M661.3 537.1h0M661.4 515.6h0M661.6 530.8h0M661.7 511.6h0M661.8 542.2h0M662 465.6h0M662.1 490.7h0M662.2 503.2h0M662.4 543.6h0M662.5 555.6h0M662.7 524.2h0M662.8 512.6h0M662.9 464.2h0M663.1 485.8h0M663.2 526.9h0M663.3 489.3h0M663.5 493.5h0M663.6 514.3h0M663.7 492.1h0M663.9 509.4h0M664 530.9h0M664.1 547.4h0M664.3 524.7h0M664.4 500.6h0M664.6 552.9h0M664.7 555.5h0M664.8 510.9h0M664.9 572.1h0M665.1 470.1h0M665.2 524.6h0M665.4 510h0M665.5 480.5h0M665.6 552h0M665.8 543.5h0M665.9 476.2h0M666 537h0M666.2 540.5h0M666.3 521.4h0M666.5 496.9h0M666.6 493.9h0M666.7 513.2h0M666.9 531.2h0M667 522.1h0M667.1 512.4h0M667.2 494.6h0M667.4 522.2h0M667.5 489.8h0M667.7 547.6h0M667.8 511.8h0M667.9 481.4h0M668.1 490.6h0M668.2 507.7h0M668.3 542.3h0M668.5 530.8h0M668.6 520h0M668.8 516h0M668.9 530h0M669 559h0M669.2 542.9h0M669.3 514.2h0M669.4 516.7h0M669.6 559.4h0M669.7 529.7h0M669.8 562.7h0M670 532.7h0M670.1 448.4h0M670.3 511.5h0M670.4 515.2h0M670.5 527.8h0M670.6 539.6h0M670.8 559h0M670.9 510.7h0M671 521.3h0M671.2 489.1h0M671.3 552.9h0M671.5 506.2h0M671.6 487.4h0M671.7 559.5h0M671.9 501.1h0M672 544.6h0M672.1 502.7h0M672.3 485.4h0M672.4 520.7h0M672.6 515.2h0M672.7 537h0M672.8 521.2h0M673 501.5h0M673.1 535.2h0M673.2 535h0M673.4 523.9h0M673.5 514.8h0M673.6 561.7h0M673.8 518.2h0M673.9 530.8h0M674.1 499.7h0M674.2 490.7h0M674.3 502h0M674.5 482.6h0M674.6 532.9h0M674.7 520.6h0M674.9 540.1h0M675 520.4h0M675.2 520.7h0M675.3 526h0M675.4 549h0M675.5 528.1h0M675.7 540.6h0M675.8 517.4h0M675.9 540.7h0M676.1 513.4h0M676.2 532.9h0M676.4 576.5h0M676.5 542.2h0M676.6 575.5h0M676.8 520.3h0M676.9 505.4h0M677.1 537.8h0M677.2 528h0M677.3 577.3h0M677.5 589.2h0M677.6 555.4h0M677.7 544.3h0M677.9 572.8h0M678 537.1h0M678.1 531.7h0M678.3 530.6h0M678.4 497.9h0M678.5 519.8h0M678.7 543.8h0M678.8 535.9h0M678.9 524.9h0M679.1 554h0M679.2 509.3h0M679.4 518h0M679.5 539.4h0M679.6 547.1h0M679.7 448.4h0M679.9 515.1h0M680 518.9h0M680.2 504.1h0M680.3 521.9h0M680.4 534h0M680.6 521.7h0M680.7 549.4h0M680.8 513.2h0M681 561.2h0M681.1 517.5h0M681.3 521.5h0M681.4 564.5h0M681.5 492.8h0M681.6 560.3h0M681.8 502.1h0M681.9 541.5h0M682.1 522.3h0M682.2 542h0M682.4 472.7h0M682.5 504.4h0M682.6 489.5h0M682.7 503.6h0M682.9 514.1h0M683 529.7h0M683.1 531.5h0M683.3 510.8h0M683.4 523.8h0M683.6 534.1h0M683.7 561.3h0M683.8 526.8h0M684 505.5h0M684.1 533.8h0M684.2 515.2h0M684.4 528.7h0M684.5 542.1h0M684.6 538.7h0M684.8 530.7h0M684.9 521.4h0M685 513.6h0M685.2 483.6h0M685.3 532.3h0M685.5 559h0M685.6 502.3h0M685.8 526.4h0M685.9 522h0M686 454.4h0M686.2 479.6h0M686.3 503.2h0M686.4 492.4h0M686.6 513.8h0M686.7 494.7h0M686.8 530.3h0M687 536.3h0M687.1 525.8h0M687.2 481.8h0M687.4 478.8h0M687.5 528.7h0M687.6 496.8h0M687.8 531h0M687.9 506h0M688 536.7h0M688.2 508.3h0M688.3 529.1h0M688.5 537.8h0M688.6 530.5h0M688.7 531.1h0M688.9 549.1h0M689 554.8h0M689.1 482.9h0M689.3 530.5h0M689.4 554.7h0M689.5 559.9h0M689.7 569.5h0M689.8 517.4h0M690 477.5h0M690.1 545.1h0M690.2 521.5h0M690.3 553.4h0M690.5 495.4h0M690.6 514.1h0M690.8 513.5h0M690.9 493.6h0M691 485.9h0M691.2 492.4h0M691.3 532.6h0M691.4 543.8h0M691.6 541.4h0M691.7 561.4h0M691.8 482.9h0M692 522.7h0M692.1 519.2h0M692.3 521h0M692.4 482.9h0M692.5 542.1h0M692.7 502.7h0M692.8 524.5h0M692.9 534.9h0M693.1 571.6h0M693.2 510.7h0M693.4 541.9h0M693.5 538.4h0M693.6 526.2h0M693.8 520.3h0M693.9 492h0M694 531.8h0M694.2 511h0M694.3 508.2h0M694.4 516.9h0M694.6 500.6h0M694.7 520.8h0M694.9 484.7h0M695 535.5h0M695.1 548.7h0M695.2 518.2h0M695.4 495h0M695.5 534.4h0M695.6 538.7h0M695.8 537.9h0M695.9 528.5h0M696.1 532.1h0M696.2 527.3h0M696.3 572.4h0M696.5 510.5h0M696.6 531.1h0M696.7 559.3h0M696.9 509.1h0M697 527.8h0M697.1 508.7h0M697.3 562.8h0M697.4 503.2h0M697.6 533.5h0M697.7 577.8h0M697.8 517h0M698 533.3h0M698.1 550.4h0M698.3 528.5h0M698.4 566.1h0M698.5 510.9h0M698.7 524.5h0M698.8 524.5h0M698.9 488.3h0M699 519.6h0M699.2 534.5h0M699.3 541h0M699.4 523.3h0M699.6 503.2h0M699.7 549.6h0M699.9 558.9h0M700 515.8h0M700.2 528.8h0M700.3 528.4h0M700.4 477.3h0M700.6 542.8h0M700.7 513.2h0M700.8 560.6h0M700.9 525.3h0M701.1 508.9h0M701.2 498.5h0M701.4 545.4h0M701.5 497.8h0M701.6 495.4h0M701.8 522h0M701.9 465.8h0M702 515.8h0M702.2 541.2h0M702.3 512.1h0M702.5 561h0M702.6 495.8h0M702.7 501.4h0M702.9 534.9h0M703 513.2h0M703.1 508h0M703.3 485.1h0M703.4 538.9h0M703.5 555.5h0M703.7 571.4h0M703.8 536.4h0M703.9 558.4h0M704.1 532.4h0M704.2 517.8h0M704.4 534.2h0M704.5 545.6h0M704.6 499.9h0M704.8 531.4h0M704.9 517.7h0M705.1 500.3h0M705.2 550.5h0M705.3 546.8h0M705.5 471.1h0M705.6 527.1h0M705.7 546.8h0M705.9 523.9h0M706 539.2h0M706.1 543.4h0M706.3 527h0M706.4 523.8h0M706.5 530.9h0M706.7 514.8h0M706.8 562.1h0M706.9 557.9h0M707.1 508h0M707.2 534.3h0M707.4 499.7h0M707.5 515h0M707.6 550.3h0M707.8 508.7h0M707.9 549.7h0M708 516.1h0M708.1 497.1h0M708.3 482.1h0M708.4 524.4h0M708.6 505.8h0M708.7 523h0M708.9 518.5h0M709 592.2h0M709.1 548.8h0M709.2 533.1h0M709.4 517.2h0M709.5 531.8h0M709.7 498.3h0M709.8 489.9h0M709.9 510h0M710.1 518.3h0M710.2 528.3h0M710.3 513.5h0M710.5 492.3h0M710.6 484.2h0M710.8 525.2h0M710.9 539.5h0M711 530.3h0M711.2 492.3h0M711.3 509.2h0M711.4 510.3h0M711.6 504.3h0M711.7 503.5h0M711.8 518h0M712 536.6h0M712.1 530.3h0M712.3 519.9h0M712.4 515.5h0M712.5 529.8h0M712.6 528.9h0M712.8 486.1h0M712.9 529.8h0M713.1 516.5h0M713.2 528.3h0M713.3 538h0M713.5 553.4h0M713.6 536.3h0M713.7 548.8h0M713.9 507h0M714 546.2h0M714.1 533.2h0M714.3 504h0M714.4 521.7h0M714.5 507.1h0M714.7 495.3h0M714.8 552.7h0M715 529.5h0M715.1 548.9h0M715.2 497h0M715.4 527h0M715.5 510.2h0M715.6 481.9h0M715.8 526.8h0M715.9 513.4h0M716.1 511.2h0M716.2 524.8h0M716.3 490.2h0M716.5 500.9h0M716.6 490.5h0M716.7 510.7h0M716.9 515.1h0M717 513.4h0M717.1 516.2h0M717.3 537.8h0M717.4 492h0M717.6 484.6h0M717.7 505.2h0M717.8 521.8h0M718 512.2h0M718.1 510.3h0M718.2 508.2h0M718.3 478.9h0M718.5 534.8h0M718.6 509.6h0M718.7 509.6h0M718.9 524.9h0M719 535.2h0M719.2 556.9h0M719.3 547.6h0M719.4 514.8h0M719.6 502.6h0M719.7 555.4h0M719.8 530.1h0M720 515.4h0M720.1 507h0M720.3 522h0M720.4 519.2h0M720.5 505.5h0M720.7 544.1h0M720.8 519.2h0M720.9 554h0M721.1 563.7h0M721.2 538.4h0M721.3 559.4h0M721.5 514.3h0M721.6 506.3h0M721.7 533h0M721.9 533.7h0M722 534.3h0M722.1 533.9h0M722.3 527.3h0M722.4 525.4h0M722.6 546.9h0M722.7 554.2h0M722.8 545.6h0M723 516.8h0M723.1 541.5h0M723.2 495.3h0M723.4 532.8h0M723.5 496.8h0M723.7 548.3h0M723.8 535.7h0M723.9 509.3h0M724.1 509.2h0M724.2 515.8h0M724.3 470.1h0M724.5 515h0M724.6 508.7h0M724.7 521.5h0M724.9 469.5h0M725 488.5h0M725.1 496.4h0M725.3 540.2h0M725.4 498.9h0M725.6 515.8h0M725.7 496.8h0M725.8 487h0M726 517.4h0M726.1 500.5h0M726.2 482.6h0M726.4 491.7h0M726.5 496.6h0M726.6 514.6h0M726.8 510.2h0M726.9 532.3h0M727 486.2h0M727.2 496.9h0M727.3 534h0M727.4 516h0M727.6 540.9h0M727.7 582.2h0M727.9 494.7h0M728 496.1h0M728.1 551.7h0M728.3 542h0M728.4 518.2h0M728.6 536.3h0M728.7 541.5h0M728.8 533.5h0M728.9 530.7h0M729.1 543.8h0M729.2 528.1h0M729.4 537.1h0M729.5 548.2h0M729.6 533.1h0M729.8 569.1h0M729.9 498.3h0M730 569.5h0M730.2 534.3h0M730.3 522.6h0M730.4 520.6h0M730.6 519.9h0M730.7 492.1h0M730.8 545.1h0M731 522h0M731.1 529.7h0M731.2 544h0M731.4 542.5h0M731.5 506.4h0M731.7 542.8h0M731.8 545.1h0M731.9 534.4h0M732.1 534.7h0M732.2 530.3h0M732.3 539.3h0M732.5 527h0M732.6 535.2h0M732.8 532.1h0M732.9 513.6h0M733 555.1h0M733.2 499.2h0M733.3 537.5h0M733.4 515.9h0M733.6 527.6h0M733.7 538.1h0M733.8 572.2h0M734 493.9h0M734.1 536.8h0M734.3 535h0M734.4 495.7h0M734.5 511.9h0M734.6 477.4h0M734.8 488.1h0M734.9 506.2h0M735.1 515.6h0M735.2 504.7h0M735.3 545.5h0M735.5 516h0M735.6 517.5h0M735.7 529.5h0M735.9 512.1h0M736 545.2h0M736.2 495.7h0M736.3 487.5h0M736.4 553.1h0M736.6 517.5h0M736.7 494.7h0M736.8 518.5h0M736.9 538.8h0M737.1 540h0M737.2 508h0M737.4 480.7h0M737.5 545.3h0M737.6 522.5h0M737.8 540.6h0M737.9 527.3h0M738.1 512h0M738.2 520.6h0M738.3 530.3h0M738.4 475.9h0M738.6 521.5h0M738.7 525.2h0M738.9 495.5h0M739 522h0M739.1 528.7h0M739.3 498.5h0M739.4 545.6h0M739.6 512.8h0M739.7 504.2h0M739.8 513h0M739.9 532.4h0M740.1 529.1h0M740.2 556.2h0M740.4 527.5h0M740.5 519.8h0M740.6 506.9h0M740.8 526h0M740.9 537h0M741 544.2h0M741.2 531.1h0M741.3 522.3h0M741.4 504.3h0M741.6 529.8h0M741.7 538.7h0M741.8 517.4h0M742 533.4h0M742.1 527.2h0M742.3 559h0M742.4 549.7h0M742.6 537.9h0M742.7 503.3h0M742.8 521.8h0M743 516h0M743.1 498.9h0M743.2 545.2h0M743.3 505.4h0M743.5 518.1h0M743.6 550.9h0M743.8 504.2h0M743.9 559.4h0M744 550.7h0M744.2 532.6h0M744.3 520.4h0M744.4 534.4h0M744.6 563.9h0M744.7 526.1h0M744.9 522.3h0M745 470.4h0M745.1 497.2h0M745.3 521h0M745.4 549.2h0M745.5 522.3h0M745.7 555.9h0M745.8 527.9h0M745.9 523.2h0M746 540.8h0M746.2 527.2h0M746.3 541.8h0M746.5 541h0M746.6 496h0M746.8 517.1h0M746.9 534.3h0M747 543.9h0M747.2 530.2h0M747.3 521.9h0M747.4 508.5h0M747.6 493.4h0M747.7 510h0M747.9 546.6h0M748 486.7h0M748.1 507.4h0M748.2 508.3h0M748.4 501.7h0M748.5 563.9h0M748.7 535.3h0M748.8 539.1h0M748.9 503.9h0M749.1 551.9h0M749.2 533.4h0M749.3 495.9h0M749.5 513h0M749.6 537.5h0M749.7 489.7h0M749.9 554.2h0M750 521h0M750.2 535.7h0M750.3 524.3h0M750.4 536.9h0M750.6 545.7h0M750.7 519.7h0M750.8 547.8h0M751 505.5h0M751.1 521.3h0M751.2 499.5h0M751.4 525.2h0M751.5 534.6h0M751.6 503.3h0M751.8 486h0" fill="none" stroke="#1b75bb" stroke-width="5.4" stroke-linecap="round"/>
<path d="M751.9 554.4h0M752 514.9h0M752.2 500.8h0M752.3 540.2h0M752.4 536.7h0M752.6 507.8h0M752.7 541h0M752.9 539.9h0M753 484.8h0M753.1 532.4h0M753.3 536.4h0M753.4 563.4h0M753.5 540h0M753.7 538.2h0M753.8 487.6h0M753.9 500h0M754.1 547.3h0M754.2 483.1h0M754.3 503.5h0M754.5 526.2h0M754.6 501.2h0M754.8 508.6h0M754.9 535.3h0M755 559.9h0M755.2 543.1h0M755.3 519.6h0M755.5 527.7h0M755.6 539h0M755.7 489.9h0M755.9 540.6h0M756 501.3h0M756.1 528.5h0M756.3 521.1h0M756.4 547.2h0M756.5 525.8h0M756.7 548.1h0M756.8 565.9h0M757 534h0M757.1 537h0M757.2 512.6h0M757.3 528.2h0M757.5 552.2h0M757.6 538.5h0M757.7 573.9h0M757.9 543.8h0M758 494.6h0M758.1 496.1h0M758.3 511.2h0M758.4 519h0M758.6 515.1h0M758.7 521.1h0M758.8 563.7h0M759 549.8h0M759.1 504.3h0M759.3 506.1h0M759.4 532.2h0M759.5 536.2h0M759.6 535h0M759.8 536.1h0M759.9 550h0M760.1 571.1h0M760.2 526h0M760.3 541.4h0M760.5 529.2h0M760.6 497.1h0M760.7 517.2h0M760.9 551.7h0M761 530.1h0M761.1 577.5h0M761.3 519.7h0M761.4 537.7h0M761.6 548.4h0M761.7 534.3h0M761.8 519.8h0M761.9 561.5h0M762.1 574.1h0M762.2 507.6h0M762.4 550.8h0M762.5 527.1h0M762.7 572.3h0M762.8 542.3h0M762.9 563.4h0M763 534.8h0M763.2 554.9h0M763.3 563.9h0M763.4 515.3h0M763.6 544.4h0M763.7 592.7h0M763.9 559.5h0M764 570h0M764.1 580.6h0M764.3 562.1h0M764.4 553.7h0M764.6 548.1h0M764.7 560.9h0M764.8 583.6h0M765 549.5h0M765.1 521h0M765.2 568.5h0M765.3 526.9h0M765.5 524.2h0M765.6 550.7h0M765.8 530.5h0M765.9 551.8h0M766 545.8h0M766.2 559.2h0M766.3 523.3h0M766.5 500.6h0M766.6 537.1h0M766.7 500.8h0M766.9 579.2h0M767 554.7h0M767.1 557.6h0M767.3 501h0M767.4 544.3h0M767.5 506h0M767.7 565h0M767.8 527.3h0M767.9 513.7h0M768.1 529.5h0M768.2 586.3h0M768.4 521.7h0M768.5 507.3h0M768.6 497.4h0M768.7 516.3h0M768.9 558h0M769.1 524.9h0M769.2 494h0M769.3 544.3h0M769.4 518.5h0M769.6 543h0M769.7 527.3h0M769.9 512.4h0M770 540.3h0M770.1 470.8h0M770.2 529.1h0M770.4 522.3h0M770.5 545.6h0M770.6 530.2h0M770.8 536.1h0M770.9 554.7h0M771.1 565.4h0M771.2 520.2h0M771.4 527.5h0M771.5 585.4h0M771.6 572.6h0M771.7 533.8h0M771.9 524.1h0M772 513.8h0M772.2 549.5h0M772.3 515h0M772.4 533.1h0M772.6 535h0M772.7 528.2h0M772.8 502.2h0M773 514.4h0M773.1 503.5h0M773.3 539.9h0M773.4 534.7h0M773.5 554h0M773.7 541.4h0M773.8 541.5h0M773.9 539.6h0M774.1 515.1h0M774.2 518.8h0M774.3 518h0M774.4 536.3h0M774.6 516.5h0M774.7 540h0M774.9 521.2h0M775 527.7h0M775.2 517.5h0M775.3 528.4h0M775.4 550.5h0M775.5 558.4h0M775.7 484.1h0M775.8 520.1h0M776 516.9h0M776.1 534.6h0M776.2 535.3h0M776.4 463.3h0M776.5 550h0M776.7 533.4h0M776.8 531.9h0M776.9 556.9h0M777.1 558.7h0M777.2 549.3h0M777.3 543.5h0M777.5 543.4h0M777.6 509.6h0M777.7 557.4h0M777.9 524.3h0M778 499.9h0M778.2 512.7h0M778.3 557.6h0M778.4 587.2h0M778.6 510.3h0M778.7 516.5h0M778.8 541.8h0M778.9 502.6h0M779.1 547.7h0M779.2 532.4h0M779.4 557.2h0M779.5 531.7h0M779.6 540.2h0M779.8 542.8h0M779.9 511.4h0M780.1 532.8h0M780.2 564.2h0M780.3 517.4h0M780.4 515.4h0M780.6 555.9h0M780.7 549.4h0M780.8 537.5h0M781 543.2h0M781.1 542.6h0M781.3 533.5h0M781.4 555.2h0M781.6 488.2h0M781.7 550.5h0M781.8 555.2h0M781.9 497.5h0M782.1 489.7h0M782.2 543.9h0M782.3 545h0M782.5 563.7h0M782.6 519.4h0M782.7 544h0M782.9 564.5h0M783 535.9h0M783.2 521.1h0M783.3 529.8h0M783.5 501.1h0M783.6 516h0M783.7 529h0M783.8 539h0M784 524.4h0M784.1 512.1h0M784.3 519.2h0M784.4 507.7h0M784.5 527.7h0M784.7 512.7h0M784.8 506.9h0M784.9 536.1h0M785.1 556h0M785.2 496.7h0M785.3 519.4h0M785.5 549.7h0M785.6 539h0M785.8 549.6h0M785.9 575.7h0M786 539.5h0M786.1 569.1h0M786.3 534.1h0M786.4 539.2h0M786.6 518.4h0M786.7 542.2h0M786.8 525.3h0M787 534.3h0M787.1 538.7h0M787.3 561.9h0M787.4 514.7h0M787.5 533.6h0M787.7 550h0M787.8 529.7h0M787.9 542.2h0M788.1 552.2h0M788.2 527.6h0M788.3 503.2h0M788.5 537.4h0M788.6 562.9h0M788.7 545.8h0M788.9 500.9h0M789 555h0M789.1 509h0M789.3 531.1h0M789.4 509.9h0M789.6 529.5h0M789.7 561.7h0M789.8 534.7h0M789.9 478.2h0M790.1 530.1h0M790.2 514.8h0M790.3 531.7h0M790.5 536h0M790.6 520.5h0M790.8 518.4h0M790.9 477.9h0M791 526.2h0M791.2 531.1h0M791.3 541.9h0M791.4 554.8h0M791.6 558h0M791.7 511.3h0M791.8 570h0M792 503.2h0M792.1 518.5h0M792.3 539.3h0M792.4 561.2h0M792.5 529.2h0M792.7 528.9h0M792.8 505.8h0M792.9 540.3h0M793.1 534.6h0M793.2 529.2h0M793.4 531h0M793.5 535.9h0M793.6 563.8h0M793.8 552.6h0M793.9 531h0M794 527.7h0M794.2 503.1h0M794.3 472h0M794.4 484.6h0M794.6 510.1h0M794.7 470.1h0M794.9 510.7h0M795 513.5h0M795.1 453h0M795.3 530.3h0M795.4 512.5h0M795.5 514.7h0M795.7 476.2h0M795.8 519.4h0M795.9 495.8h0M796.1 525.6h0M796.2 544.9h0M796.3 513.2h0M796.5 510.4h0M796.6 539.7h0M796.8 527.2h0M796.9 524.1h0M797 491.5h0M797.1 506.3h0M797.3 511.9h0M797.4 509.8h0M797.6 531.5h0M797.7 508.8h0M797.8 531.7h0M798 544.1h0M798.1 534.7h0M798.3 519.6h0M798.4 528.2h0M798.5 514.6h0M798.7 573.9h0M798.8 541.3h0M798.9 528.2h0M799.1 556.2h0M799.2 521.4h0M799.3 539.9h0M799.5 555.9h0M799.6 509.6h0M799.7 566.1h0M799.9 508.9h0M800 538.8h0M800.2 544.7h0M800.3 548.4h0M800.4 537.5h0M800.6 531.2h0M800.7 512.4h0M800.8 558.8h0M800.9 494h0M801.1 501h0M801.2 495.4h0M801.4 544.1h0M801.5 570h0M801.7 537h0M801.8 536.8h0M801.9 528.9h0M802.1 547.1h0M802.2 533.9h0M802.3 530.9h0M802.5 571h0M802.6 496.1h0M802.7 556.1h0M802.9 523.2h0M803 505.4h0M803.1 540.6h0M803.3 522.1h0M803.4 495.1h0M803.6 534.7h0M803.7 503.2h0M803.8 519.2h0M804 514.8h0M804.1 507h0M804.2 524.8h0M804.4 530h0M804.5 505.2h0M804.6 522.4h0M804.8 521.3h0M804.9 562h0M805.1 534.4h0M805.2 506.4h0M805.3 515.1h0M805.4 531.1h0M805.6 551.8h0M805.7 549.4h0M805.8 530.9h0M806 504.1h0M806.1 539.3h0M806.2 510h0M806.4 540.3h0M806.5 502.8h0M806.7 551.1h0M806.8 528.7h0M806.9 560.5h0M807.1 519h0M807.2 520.7h0M807.3 554.3h0M807.5 550.9h0M807.6 542.6h0M807.8 564h0M807.9 546.7h0M808 554h0M808.2 514.7h0M808.3 503.6h0M808.4 542.1h0M808.6 539.4h0M808.7 528.4h0M808.9 540.4h0M809 534h0M809.1 516h0M809.2 528.4h0M809.4 534.8h0M809.5 543h0M809.7 499h0M809.8 543.2h0M809.9 523.1h0M810.1 552.1h0M810.2 533.6h0M810.3 521.7h0M810.5 536.6h0M810.6 513.5h0M810.8 519.2h0M810.9 545.5h0M811 560.3h0M811.2 489.7h0M811.3 524.5h0M811.4 480.5h0M811.6 513.1h0M811.7 533.1h0M811.8 499.4h0M812 511.2h0M812.1 507.2h0M812.2 530h0M812.4 500.2h0M812.5 498.5h0M812.6 536.1h0M812.8 489.2h0M812.9 539.2h0M813.1 525.7h0M813.2 572.9h0M813.3 575.2h0M813.5 481.9h0M813.6 504.8h0M813.7 510.3h0M813.9 566.5h0M814 529.9h0M814.2 530.7h0M814.3 536.4h0M814.4 531.5h0M814.6 558.7h0M814.7 534.7h0M814.8 548.9h0M815 529.6h0M815.1 514.9h0M815.2 541h0M815.4 526.9h0M815.5 531.5h0M815.6 516.4h0M815.8 493h0M815.9 511.2h0M816.1 505.7h0M816.2 539.5h0M816.3 515.6h0M816.5 496h0M816.6 533.9h0M816.7 527.2h0M816.9 538.8h0M817 490.4h0M817.1 530.4h0M817.3 533.2h0M817.4 499.8h0M817.6 493h0M817.7 512.6h0M817.8 500.9h0M817.9 517.5h0M818.1 523.3h0M818.2 533h0M818.4 533.4h0M818.5 539.1h0M818.6 514h0M818.7 517.6h0M818.9 518h0M819 517.9h0M819.2 533.2h0M819.3 562.4h0M819.4 548.4h0M819.6 554.5h0M819.7 568.6h0M819.9 514.4h0M820 545.1h0M820.1 548.8h0M820.2 542.8h0M820.4 509.2h0M820.5 530.8h0M820.7 505.3h0M820.8 534h0M820.9 543.9h0M821.1 519.4h0M821.2 514.6h0M821.3 519.4h0M821.5 542.2h0M821.6 533.1h0M821.8 546.2h0M821.9 527.1h0M822 510.3h0M822.2 490.1h0M822.3 485.3h0M822.4 498.5h0M822.6 492h0M822.7 508.8h0M822.9 457.9h0M823 488.8h0M823.1 471.5h0M823.2 510.9h0M823.4 506.8h0M823.5 491.2h0M823.6 509h0M823.8 515h0M823.9 543.8h0M824.1 502.3h0M824.2 514.7h0M824.3 504.9h0M824.5 525.7h0M824.6 559.9h0M824.7 511.3h0M824.9 500.4h0M825 550.6h0M825.2 543.6h0M825.3 536.8h0M825.4 529.9h0M825.5 551.7h0M825.7 482.4h0M825.8 493.8h0M826 533h0M826.1 560.8h0M826.2 507.4h0M826.4 472.8h0M826.5 491.9h0M826.6 485h0M826.8 526.7h0M826.9 503.9h0M827.1 536.2h0M827.2 456.7h0M827.3 486.2h0M827.4 547.7h0M827.6 545.5h0M827.7 501.3h0M827.9 507.1h0M828 515.7h0M828.1 500h0M828.3 467.5h0M828.4 505.8h0M828.5 545.4h0M828.7 508.5h0M828.8 528.2h0M828.9 522.3h0M829.1 503.9h0M829.2 522.8h0M829.4 539.4h0M829.5 522.3h0M829.6 533.6h0M829.8 504.8h0M829.9 518.7h0M830 511.1h0M830.2 527.7h0M830.3 505.2h0M830.4 521h0M830.6 523.8h0M830.7 534h0M830.9 522.1h0M831 559.2h0M831.1 465.6h0M831.3 537.8h0M831.4 519.3h0M831.5 526.7h0M831.7 528.4h0M831.8 504.8h0M831.9 529h0M832.1 526.4h0M832.2 551.4h0M832.3 540.8h0M832.5 549.7h0M832.6 485.9h0M832.8 549.8h0M832.9 548.1h0M833 527.8h0M833.2 501.1h0M833.3 564.4h0M833.4 559.6h0M833.6 527.1h0M833.7 518.4h0M833.9 556.4h0M834 561h0M834.1 546.5h0M834.3 507.9h0M834.4 519.7h0M834.5 505.9h0M834.7 525.1h0M834.8 520.9h0M835 505.1h0M835.1 519.6h0M835.2 512.9h0M835.4 544h0M835.5 537h0M835.6 519.2h0M835.7 533.2h0M835.9 552.7h0M836 515.5h0M836.1 509.5h0M836.3 519.5h0M836.4 539.1h0M836.6 505h0M836.7 467.1h0M836.8 535.2h0M837 553.7h0M837.1 532.8h0M837.3 533.7h0M837.4 539.4h0M837.5 540h0M837.7 497.4h0M837.8 500.7h0M837.9 487h0M838.1 505.6h0M838.2 527h0M838.3 494h0M838.5 529.8h0M838.6 523.3h0M838.7 540.2h0M838.9 495.5h0M839 495h0M839.1 526.5h0M839.3 526h0M839.4 522.7h0M839.5 521.8h0M839.7 510.1h0M839.8 526h0M840 521.8h0M840.1 561h0M840.2 534.2h0M840.4 568.1h0M840.5 482.5h0M840.6 491.4h0M840.8 504.6h0M840.9 496h0M841.1 477.9h0M841.2 498h0M841.3 546.8h0M841.4 518.5h0M841.6 568.5h0M841.7 533.9h0M841.9 552.3h0M842 525h0M842.1 517.1h0M842.3 543.6h0M842.4 535.7h0M842.5 524.8h0M842.7 537.4h0M842.8 538.9h0M843 582.7h0M843.1 540.9h0M843.2 516.2h0M843.4 521.9h0M843.5 558.5h0M843.6 540.5h0M843.8 532.1h0M843.9 555.4h0M844 517.5h0M844.2 547.2h0M844.3 535.6h0M844.5 534h0M844.6 483.9h0M844.7 542.1h0M844.8 549.7h0M845 524.6h0M845.1 551.7h0M845.3 537.2h0M845.4 588.5h0M845.5 535.9h0M845.7 536.6h0M845.8 564.3h0M845.9 500.7h0M846.1 530.2h0M846.2 534.2h0M846.3 554h0M846.5 566.1h0M846.6 537.2h0M846.7 556.3h0M846.9 517.6h0M847 518h0M847.2 550.5h0M847.3 575.6h0M847.4 543.8h0M847.6 562h0M847.7 535.5h0M847.9 532.1h0M848 544h0M848.1 531.5h0M848.2 511.3h0M848.4 493.6h0M848.5 544.4h0M848.7 515h0M848.8 539.9h0M848.9 555.8h0M849.1 509.9h0M849.2 528.6h0M849.3 530.7h0M849.5 520.6h0M849.6 538.6h0M849.8 559.8h0M849.9 502.5h0M850 515h0M850.2 531.3h0M850.3 512.6h0M850.4 507.3h0M850.6 543.9h0M850.7 525.5h0M850.8 548.4h0M851 523.4h0M851.1 538.3h0M851.2 475.3h0M851.4 538.7h0M851.5 513.5h0M851.6 511.1h0M851.8 535.9h0M851.9 499.9h0M852 515.7h0M852.2 528.1h0M852.3 518.8h0M852.5 541h0M852.6 500.4h0M852.7 512h0M852.9 502.1h0M853 555.5h0M853.2 521.2h0M853.3 547.1h0M853.4 527h0M853.6 499h0M853.7 520.5h0M853.8 525.3h0M854 495.3h0M854.1 497h0M854.2 475.5h0M854.4 560.6h0M854.5 514.8h0M854.6 538.3h0M854.8 547.9h0M854.9 528.6h0M855 552.1h0M855.2 576.7h0M855.3 550.8h0M855.5 537.1h0M855.6 492h0M855.7 544.6h0M855.9 557.4h0M856 580.1h0M856.1 550.8h0M856.3 542.3h0M856.4 538.1h0M856.5 572.5h0M856.7 561h0M856.8 587.8h0M856.9 537h0M857.1 567.8h0M857.2 595h0M857.4 509.8h0M857.5 520h0M857.6 519.1h0M857.7 524h0M857.9 554.6h0M858 509.5h0M858.2 561.5h0M858.3 494.5h0M858.4 528.1h0M858.6 569.5h0M858.7 517.1h0M858.8 492h0M859 537.1h0M859.1 504.4h0M859.3 533.7h0M859.4 539.7h0M859.5 573.6h0M859.7 494.9h0M859.8 532.9h0M859.9 517h0M860.1 555.4h0M860.2 551.7h0M860.4 501.6h0M860.5 537.5h0M860.6 538.4h0M860.7 551.6h0M860.9 518.3h0M861 505.8h0M861.2 533.9h0M861.3 528.9h0M861.4 551.1h0M861.6 492.7h0M861.7 535.9h0M861.8 522.7h0M862 491.7h0M862.1 529.1h0M862.2 559.7h0M862.4 546.4h0M862.5 536h0M862.7 487.7h0M862.8 521.5h0M862.9 528.7h0M863 509.7h0M863.2 498.7h0M863.3 537.9h0M863.5 487.2h0M863.6 501.8h0M863.7 510.6h0M863.9 572.9h0M864 519.1h0M864.1 493.7h0M864.3 524.9h0M864.4 468.1h0M864.5 511h0M864.7 529.6h0M864.8 502.1h0M865 508.5h0M865.1 499.9h0M865.2 529.8h0M865.4 501.6h0M865.5 543.1h0M865.6 521.3h0M865.8 550.7h0M870.5 372.9h0M870.6 368.3h0M870.7 367.8h0M870.8 331.4h0M870.9 390.8h0M871 384.2h0M871.1 346.4h0M871.2 358h0M871.3 394.2h0M871.5 364h0M871.6 363.6h0M871.7 339.7h0M871.8 386.8h0M871.9 366.3h0M872 344h0M872.1 349.2h0M872.2 374.2h0M872.3 364.5h0M872.4 383h0M872.5 339.4h0M872.7 364.7h0M872.8 340.2h0M872.9 346.8h0M873 373.7h0M873.1 362.2h0M873.2 351.4h0M873.3 354.6h0M873.4 338.3h0M873.5 344.6h0M873.6 355.3h0M873.7 350.7h0M873.8 372.1h0M874 370h0M874.1 352.1h0M874.2 355.8h0M874.3 377.5h0M874.4 363h0M874.5 373h0M874.6 369.3h0M874.7 340.7h0M874.8 372.6h0M874.9 368.7h0M875 351.4h0M875.2 359.2h0M875.3 358.5h0M875.4 384.6h0M875.5 361.7h0M875.6 366.3h0M875.7 370.3h0M875.8 367.2h0M875.9 362.6h0M876 345.5h0M876.1 331.4h0M876.2 355.5h0M876.3 335.1h0M876.5 355.7h0M876.6 379.3h0M876.7 358.9h0M876.8 341.4h0M876.9 340.4h0M877 372.6h0M877.1 331.4h0M877.2 369h0M877.3 368.2h0M877.4 365.4h0M877.5 334.4h0M877.7 350.3h0M877.7 344.3h0M877.9 390.3h0M877.3 325.6h0M870.8 407.7h0M874 401.5h0M869.2 410.8h0M874 420h0M869.2 429.3h0M875.7 435.5h0M869.2 441.7h0M867.5 454.1h0M868.5 460.3h0M875.7 475.8h0M867.5 502.1h0M867.5 509.8h0M868.5 522.2h0M876.3 525.3h0M865.9 531.5h0M868.5 540.8h0M867.5 577.9h0M867.5 582.6h0M879.6 556.2h0M879.7 573.5h0M879.8 554h0M879.9 553.3h0M880.1 572.8h0M880.1 568.3h0M880.3 533h0M880.4 561.5h0M880.5 551.7h0M880.6 556.4h0M880.7 539.8h0M880.8 534h0M880.9 539.1h0M881 542.5h0M881.1 542.3h0M881.2 569.4h0M881.3 531.5h0M881.5 558.5h0M881.6 564.5h0M881.7 558.4h0M881.8 563.5h0M881.9 544.7h0M882 540.4h0M882.1 532.1h0M882.2 552h0M882.3 562.3h0M882.4 556.3h0M882.6 570h0M882.6 562.8h0M882.8 521.4h0M882.9 560.5h0M883 556.5h0M883.1 539h0M883.2 547.3h0M883.3 539.6h0M883.4 563.7h0M883.5 568.3h0M883.6 534.1h0M883.7 564.3h0M883.8 554.5h0M884 548.6h0M884.1 580.7h0M884.2 555.2h0M884.3 563.6h0M884.4 544h0M884.5 557.3h0M884.6 585.6h0M884.7 539.7h0M884.8 590.9h0M884.9 556.8h0M885 562h0M885.1 559.6h0M885.2 550.9h0M885.4 537.2h0M885.5 565.8h0M885.6 560.8h0M885.7 540.3h0M885.8 544.3h0M885.9 542.6h0M886 547.3h0M886.1 555.1h0M886.2 558.6h0M886.4 557.7h0M886.5 539.9h0M886.5 531.5h0M886.7 523.9h0M886.8 569.7h0M886.9 558.1h0M887 554.2h0M887.1 557.4h0M887.2 572.7h0M887.3 523.5h0M887.4 533.5h0M887.5 559.6h0M887.7 564.4h0M887.8 556.2h0M887.9 574.4h0M888 561.2h0M888.1 545.6h0M888.2 532.6h0M888.3 543.2h0M888.4 536.4h0M888.5 572.1h0M888.6 591.6h0M888.7 535h0M888.9 552.7h0M888.9 557.1h0M889.1 532.7h0M889.2 570.8h0M889.3 569.6h0M889.4 566.4h0M889.5 529h0M889.6 540.5h0M889.7 580.9h0M889.8 528.1h0M889.9 552.4h0M890 546.5h0M890.2 564.7h0M890.3 523.6h0M890.4 544.6h0M890.5 530.8h0M890.6 565.8h0M890.7 540.5h0M890.8 548.2h0M890.9 553h0M891 562.3h0M891.1 561h0M891.2 569.5h0M891.4 562.5h0M891.5 554.3h0M891.6 544.7h0M891.7 577.7h0M891.8 569.4h0M891.9 564.2h0M892 580.3h0M892.1 560.2h0M892.2 558.8h0M892.3 559.1h0M892.4 551.2h0M892.6 541.7h0M892.7 543.5h0M892.8 553h0M892.9 546.8h0M893 566.6h0M893.1 567.7h0M893.2 545.3h0M893.3 546.4h0M893.4 522.1h0M893.5 559.6h0M893.6 572.8h0M893.7 551.3h0M893.9 563.3h0M894 569.8h0M894.1 534.2h0M894.2 524.9h0M894.3 548.4h0M894.4 564.6h0M894.5 550.4h0M894.6 555.3h0M894.7 578.1h0M894.8 542.8h0M894.9 550.9h0M895.1 537.3h0M895.2 565.5h0M895.3 558.5h0M895.4 561h0M895.5 587.4h0M895.6 521.5h0M895.7 591.1h0M895.8 576.3h0M895.9 565.1h0M896 582.3h0M896.1 551.9h0M896.2 567h0M896.4 560.3h0M896.4 557.5h0M896.6 558.3h0M896.7 558.1h0M896.8 562.4h0M896.9 553.6h0M897 548.3h0M897.1 565.1h0M897.2 567.6h0M897.3 567.4h0M897.4 555.3h0M897.5 566.5h0M897.7 565.9h0M897.8 582.7h0M897.9 529.8h0M898 578.8h0M898.1 533.9h0M898.2 545.7h0M898.3 542.9h0M898.4 553.4h0M898.5 548.7h0M898.6 552.1h0M898.8 545.7h0M898.8 544.2h0M899 533.2h0M899.1 572h0M899.2 548.9h0M899.3 530.5h0M899.4 534.2h0M899.5 571.9h0M899.6 549.9h0M899.7 550.5h0M899.8 551.9h0M899.9 590.2h0M900.1 541.7h0M900.2 580.7h0M900.3 521h0M900.4 545.5h0M900.5 558.1h0M900.6 546.9h0M900.7 554.6h0M900.8 565h0M900.9 559.2h0M901 550.5h0M901.1 567.7h0M901.2 543.9h0M901.4 537.3h0M901.5 540.3h0M901.6 537.7h0M901.7 536.7h0M901.8 545.4h0M901.9 537h0M902 555.4h0M902.1 550.4h0M902.2 534.7h0M902.3 525h0M902.4 559.7h0M902.5 578.3h0M902.7 522.6h0M902.8 537.8h0M902.9 527.4h0M903 541h0M903.1 552h0M903.2 567.5h0M903.3 573.3h0M903.4 535.5h0M903.5 542.2h0M903.6 551.8h0M903.7 572.9h0M903.9 563.4h0M903.9 565h0M904.1 559.3h0M904.2 591.6h0M904.3 551.4h0M904.4 530.9h0M904.5 563h0M904.6 552.5h0M904.7 547.3h0M904.8 569h0M904.9 545.4h0M905.1 566.1h0M905.1 560.5h0M905.3 549.1h0M905.4 555.2h0M905.5 554h0M905.6 570.6h0M905.7 543h0M905.8 570.4h0M905.9 540.9h0M906 561.6h0M906.1 572.6h0M906.2 555h0M906.3 570.9h0M906.5 561.2h0M906.6 555.6h0M906.7 540h0M906.8 541.5h0M906.9 546.1h0M907 557.9h0M907.1 576.2h0M907.2 558.2h0M907.3 559.2h0M907.4 555.3h0M907.5 561.9h0M907.6 560.5h0M907.7 537.5h0M907.9 570.5h0M908 548.6h0M908.1 527.7h0M908.2 559.4h0M908.3 561.8h0M908.4 549.4h0M908.5 552.1h0M908.6 543.8h0M908.7 525.5h0M908.9 548.5h0M909 538.5h0M909.1 556.6h0M909.2 553.9h0" fill="none" stroke="#1b75bb" stroke-width="5.4" stroke-linecap="round"/>
<path d="M909.3 543.4h0M909.4 559.6h0M909.5 529.5h0M909.6 554.2h0M909.7 551.6h0M909.8 566.6h0M909.9 557h0M910.1 564.6h0M910.2 556.6h0M910.3 579.4h0M910.4 550.5h0M910.5 522.8h0M910.6 580.6h0M910.7 524.6h0M910.8 552.9h0M910.9 536.8h0M911 566.4h0M911.1 518h0M911.2 566.9h0M911.3 550.3h0M911.5 522.9h0M911.6 569h0M911.7 586h0M911.8 550.7h0M911.9 560.2h0M912 563.9h0M912.1 564.6h0M879.6 509.8h0M888.7 505.2h0M893.6 511.4h0M906.7 495.9h0M888.7 599.6h0M895.2 598.1h0M918.1 516h0M918.1 579.5h0M908.9 520.7h0M912.2 673h0M912.3 637h0M912.4 639h0M912.5 655.6h0M912.7 657.9h0M912.8 648.7h0M912.9 649.5h0M913 623.5h0M913.1 650h0M913.2 649.2h0M913.3 648.9h0M913.4 670.5h0M913.5 653.9h0M913.6 666.8h0M913.8 646.3h0M913.8 674.5h0M913.9 666.3h0M914.1 643.4h0M914.2 674.5h0M914.3 669.1h0M914.4 631.7h0M914.5 665.7h0M914.6 644.7h0M914.7 639.2h0M914.8 657.4h0M914.9 668.1h0M915 620.9h0M915.1 652.4h0M915.3 637.1h0M915.4 656.2h0M915.5 638.9h0M915.6 664h0M915.7 664.9h0M915.8 659.6h0M915.9 652.6h0M916 653.2h0M916.1 649.4h0M916.2 636.8h0M916.3 651.7h0M916.5 630.4h0M916.6 654.1h0M916.7 634.5h0M916.8 624.6h0M916.9 618.2h0M917 673.6h0M917.1 617.1h0M917.2 670.2h0M917.3 623.6h0M917.4 643.6h0M917.5 638.7h0M917.7 659.6h0M917.7 633h0M917.9 636.7h0M918 655.8h0M918.1 658.3h0M918.2 636.9h0M918.3 635.1h0M918.4 638h0M918.5 654.9h0M918.6 649h0M918.7 635.9h0M918.9 637.5h0M918.9 632.3h0M919.1 646.8h0M919.2 658.5h0M919.3 643.4h0M919.4 640.2h0M919.5 654.5h0M919.6 640.2h0M919.7 658.2h0M919.8 641.4h0M920 653.6h0M920.1 613.7h0M920.2 628.6h0M920.3 642.6h0M920.4 666.9h0M920.5 665h0M920.6 635.6h0M920.7 647.2h0M920.8 639.8h0M920.9 669.1h0M921 667.1h0M921.1 643.4h0M921.2 648.9h0M921.3 665.6h0M921.5 657.6h0M921.6 632.9h0M921.7 648.6h0M921.8 633.1h0M921.9 615.7h0M908.3 608.9h0M916.4 610.4h0M914.8 684.8h0M916.4 695.6h0M922 426.4h0M922.1 443.2h0M922.2 439.6h0M922.3 441.7h0M922.4 443.3h0M922.5 445.4h0M922.7 462h0M922.8 420h0M922.9 444.3h0M923 424h0M923.1 462.1h0M923.2 433.7h0M923.3 457.8h0M923.4 458.9h0M923.5 438h0M923.6 426.7h0M923.7 421.9h0M923.9 421.8h0M924 444.4h0M924.1 430.8h0M924.2 450.5h0M924.3 449.4h0M924.4 439.4h0M924.5 443.8h0M924.6 432.3h0M924.7 469.7h0M924.8 429h0M924.9 454.1h0M925 426.2h0M925.2 432h0M925.3 463.5h0M925.4 448.5h0M925.5 437.8h0M925.6 458.6h0M925.7 459.1h0M925.8 453.4h0M925.9 438.8h0M926 436.3h0M926.1 454.3h0M926.2 436h0M926.4 427.4h0M926.5 435.1h0M926.6 458.4h0M926.7 460.2h0M926.8 443.8h0M926.9 436h0M927 443.5h0M927.1 453.5h0M927.2 462.5h0M927.3 432.5h0M927.4 451h0M927.5 423.1h0M927.7 463.9h0M927.8 451.9h0M927.9 455.8h0M928 422.7h0M928.1 430.6h0M928.2 454.8h0M928.3 476.3h0M928.4 434.1h0M928.5 447.5h0M928.6 464.6h0M928.7 469.5h0M928.9 441.9h0M929 449.9h0M929.1 444.3h0M929.2 440.5h0M929.3 449.6h0M929.4 448.5h0M929.5 434.8h0M929.6 443.8h0M929.7 446.5h0M929.8 433.1h0M929.9 470.1h0M930 425.8h0M930.2 436.1h0M930.3 453.4h0M930.4 446.8h0M930.5 427.5h0M930.6 437h0M930.7 468.8h0M930.8 458.1h0M930.9 441h0M931 417.8h0M931.1 431.4h0M931.2 445.9h0M931.3 434.7h0M931.5 442.1h0M931.6 446.4h0M931.7 435.8h0M931.8 470.1h0M931.9 427.4h0M932 433.6h0M932.1 448.3h0M932.2 453.2h0M932.3 458.1h0M932.4 436.5h0M932.5 437.7h0M932.6 437.1h0M932.8 416.1h0M932.9 470.7h0M933 450.6h0M933.1 451.1h0M933.2 426.9h0M933.3 443h0M933.4 452h0M933.5 435.8h0M933.6 433.6h0M933.8 417h0M933.8 435.9h0M933.9 446.5h0M934.1 448.7h0M934.2 452.3h0M934.3 433.4h0M934.4 427.8h0M934.5 442.9h0M934.6 440.5h0M934.7 418.6h0M934.8 436.9h0M934.9 431.2h0M935 451.6h0M935.2 445.1h0M935.3 465.3h0M935.4 455.4h0M935.5 432.2h0M935.6 419.6h0M935.7 440.6h0M935.8 453.3h0M935.9 435.8h0M936 422.4h0M936.1 439.3h0M936.2 424.7h0M936.3 438.6h0M936.5 455.1h0M936.6 450.7h0M936.7 442.7h0M936.8 411.4h0M936.9 431h0M937 441.7h0M937.1 435.3h0M937.2 437.3h0M937.3 447.1h0M937.4 442.4h0M937.6 445.5h0M937.7 431.2h0M937.8 420.4h0M937.9 422.9h0M938 445.7h0M938.1 433.2h0M938.2 451.6h0M938.3 457.5h0M938.4 441.1h0M938.5 434.3h0M938.6 442.6h0M938.8 431h0M938.8 430.6h0M938.9 432.3h0M939.1 446.2h0M939.2 461.5h0M939.3 418.5h0M939.4 448.8h0M939.5 432.2h0M939.6 437h0M939.7 448h0M939.8 417.4h0M939.9 432.1h0M940.1 440.3h0M940.2 445.5h0M940.3 453.2h0M940.4 457.4h0M940.5 433.3h0M940.6 446.6h0M940.7 446.2h0M940.8 432.9h0M940.9 445.3h0M941 431.2h0M941.1 449.4h0M941.3 446.8h0M941.4 427.8h0M941.5 450.1h0M941.6 432.8h0M941.7 435.2h0M941.8 442.7h0M941.9 465.7h0M942 463h0M942.1 458.4h0M942.2 460.7h0M942.3 431.1h0M942.4 455.5h0M942.6 460.4h0M942.6 450.4h0M942.8 444.7h0M942.9 467.4h0M943 436.5h0M943.1 436.4h0M943.2 454.4h0M943.3 436h0M943.4 468.6h0M943.5 455.1h0M943.6 449h0M943.8 444.7h0M943.9 430h0M944 450.9h0M944.1 458.9h0M944.2 443.3h0M944.3 444.5h0M944.4 440.6h0M944.5 451.8h0M944.6 443.7h0M944.7 453.5h0M944.8 437.1h0M945 454h0M945 452.7h0M945.2 428.5h0M945.2 454.8h0M945.4 444.2h0M945.5 436.2h0M945.6 447.7h0M945.7 431.3h0M945.8 452.7h0M945.9 431.2h0M946 468.4h0M946.1 465.8h0M946.3 447.1h0M946.4 427.8h0M946.5 427.4h0M946.6 459.2h0M946.7 448.1h0M946.8 455.6h0M946.9 476.9h0M947 438.1h0M947.1 452.6h0M947.2 427h0M947.3 442.5h0M947.5 453.2h0M947.5 455.2h0M947.6 448.8h0M947.8 439.8h0M947.9 451.6h0M948 411.4h0M948.1 442.4h0M948.2 459.7h0M948.3 442.7h0M948.4 429.6h0M948.5 439h0M948.6 449.6h0M948.8 453.1h0M948.9 454.9h0M949 458.7h0M949.1 450.7h0M949.2 439.7h0M949.3 451.7h0M949.4 420.5h0M949.5 436.2h0M949.6 448.2h0M949.7 442h0M949.8 421.8h0M949.9 466.2h0M950 440.8h0M950.2 411.4h0M950.3 429.9h0M950.4 456.1h0M950.5 441.9h0M950.6 446.5h0M950.7 411.4h0M950.8 453.3h0M950.9 447.7h0M951 448.1h0M951.1 464.2h0M951.2 476.9h0M951.4 445.6h0M951.5 435.3h0M951.6 446.5h0M951.7 434.7h0M951.8 432h0M951.9 433.3h0M952 466.5h0M952.1 421.5h0M952.2 430.3h0M952.3 431.2h0M952.4 441.7h0M952.5 440.6h0M936 395.3h0M929.5 403h0M939.3 401.5h0M949.1 406.1h0M932.7 502.1h0M923 485.1h0M937.6 488.2h0M940.9 485.1h0" fill="none" stroke="#1b75bb" stroke-width="5.4" stroke-linecap="round"/>
<line x1="137" y1="552.4" x2="169" y2="552.4" stroke="#000" stroke-width="3"/>
<line x1="880.4" y1="553.3" x2="913" y2="553.3" stroke="#000" stroke-width="3"/>
<line x1="179.8" y1="443.6" x2="212.5" y2="443.6" stroke="#a6dcc6" stroke-width="3"/>
<line x1="922.4" y1="443.6" x2="953" y2="443.6" stroke="#a6dcc6" stroke-width="3"/>
<line x1="216" y1="526.3" x2="866.3" y2="526.3" stroke="#cf2030" stroke-width="3.4"/>
<circle cx="539.4" cy="311.7" r="2.5" fill="#1b75bb"/>
<text class="t" x="561.6" y="320.1">Raw Δ<tspan class="i">f</tspan> data</text>
<line x1="526.3" y1="351.3" x2="558.6" y2="351.3" stroke="#a5d3b4" stroke-width="2.8"/>
<text class="t" x="567" y="359.8">Δ<tspan class="i">f</tspan></text>
<text class="t s" x="598.2" y="342.3">+</text>
<line x1="526.3" y1="385.8" x2="558.6" y2="385.8" stroke="#e11b22" stroke-width="2.8"/>
<text class="t" x="565" y="392.6"><tspan class="br" dy="3">⟨</tspan><tspan dy="-3" dx="-1.0">Δ</tspan><tspan class="i">f</tspan><tspan class="br" dy="3" dx="3.2">⟩</tspan></text>
<line x1="526.3" y1="422.4" x2="558.6" y2="422.4" stroke="#000" stroke-width="2.8"/>
<text class="t" x="567" y="430">Δ<tspan class="i">f</tspan></text>
<text class="t s" x="597.4" y="410.6">0</text>
<text class="b" x="1.8" y="307.6">b</text>
</g>
<g id="panel-c">
<rect x="127.1" y="828.1" width="827.1" height="625.4" fill="none" stroke="#000" stroke-width="3"/>
<line x1="117.2" y1="828.1" x2="127.1" y2="828.1" stroke="#000" stroke-width="3"/>
<text class="t" x="110.5" y="839.1" text-anchor="end">-2.40</text>
<line x1="117.2" y1="967.1" x2="127.1" y2="967.1" stroke="#000" stroke-width="3"/>
<text class="t" x="110.5" y="978.1" text-anchor="end">-2.50</text>
<line x1="117.2" y1="1106.1" x2="127.1" y2="1106.1" stroke="#000" stroke-width="3"/>
<text class="t" x="110.5" y="1117.1" text-anchor="end">-2.60</text>
<line x1="117.2" y1="1245.1" x2="127.1" y2="1245.1" stroke="#000" stroke-width="3"/>
<text class="t" x="110.5" y="1256.1" text-anchor="end">-2.70</text>
<line x1="117.2" y1="1384.1" x2="127.1" y2="1384.1" stroke="#000" stroke-width="3"/>
<text class="t" x="110.5" y="1395.1" text-anchor="end">-2.80</text>
<line x1="182.2" y1="1453.5" x2="182.2" y2="1463.6" stroke="#000" stroke-width="3"/>
<text class="t" x="182.2" y="1501" text-anchor="middle">1538</text>
<line x1="292.5" y1="1453.5" x2="292.5" y2="1463.6" stroke="#000" stroke-width="3"/>
<text class="t" x="292.5" y="1501" text-anchor="middle">1540</text>
<line x1="402.8" y1="1453.5" x2="402.8" y2="1463.6" stroke="#000" stroke-width="3"/>
<text class="t" x="402.8" y="1501" text-anchor="middle">1542</text>
<line x1="513.1" y1="1453.5" x2="513.1" y2="1463.6" stroke="#000" stroke-width="3"/>
<text class="t" x="513.1" y="1501" text-anchor="middle">1544</text>
<line x1="623.4" y1="1453.5" x2="623.4" y2="1463.6" stroke="#000" stroke-width="3"/>
<text class="t" x="623.4" y="1501" text-anchor="middle">1546</text>
<line x1="733.6" y1="1453.5" x2="733.6" y2="1463.6" stroke="#000" stroke-width="3"/>
<text class="t" x="733.6" y="1501" text-anchor="middle">1548</text>
<line x1="843.9" y1="1453.5" x2="843.9" y2="1463.6" stroke="#000" stroke-width="3"/>
<text class="t" x="843.9" y="1501" text-anchor="middle">1550</text>
<line x1="954.2" y1="1453.5" x2="954.2" y2="1463.6" stroke="#000" stroke-width="3"/>
<text class="t" x="954.2" y="1501" text-anchor="middle">1552</text>
<text class="t" x="540.6" y="1541.2" text-anchor="middle">Frequency (MHz)</text>
<text class="t" transform="translate(27.5,1184.2) rotate(-90)">Δ<tspan class="i">f</tspan> (Hz)</text>
<path d="M127.1 869.6v10.4M117.8 869.6h18.5M117.8 880.1h18.5M138.1 866.6v7.6M128.9 866.6h18.5M128.9 874.2h18.5M149.2 870.1v8.3M139.9 870.1h18.5M139.9 878.4h18.5M160.2 869.2v9.1M150.9 869.2h18.5M150.9 878.3h18.5M171.2 869.2v10.6M162 869.2h18.5M162 879.8h18.5M182.2 869.7v11.1M173 869.7h18.5M173 880.9h18.5M193.3 868.8v10.2M184 868.8h18.5M184 879h18.5M204.3 872.4v8.2M195 872.4h18.5M195 880.6h18.5M215.3 871.6v9.6M206.1 871.6h18.5M206.1 881.2h18.5M226.4 876.4v10.3M217.1 876.4h18.5M217.1 886.7h18.5M237.4 874.9v7.7M228.1 874.9h18.5M228.1 882.6h18.5M248.4 873.5v10.3M239.2 873.5h18.5M239.2 883.8h18.5M259.4 874.8v9.1M250.2 874.8h18.5M250.2 883.9h18.5M270.5 874.5v10.1M261.2 874.5h18.5M261.2 884.6h18.5M281.5 874.5v10.4M272.2 874.5h18.5M272.2 884.9h18.5M292.5 875.8v10.5M283.3 875.8h18.5M283.3 886.2h18.5M303.5 877.6v9.9M294.3 877.6h18.5M294.3 887.5h18.5M314.6 877.3v10.1M305.3 877.3h18.5M305.3 887.4h18.5M325.6 879.9v8.8M316.4 879.9h18.5M316.4 888.6h18.5M336.6 878.6v10M327.4 878.6h18.5M327.4 888.6h18.5M347.7 880.1v8.6M338.4 880.1h18.5M338.4 888.7h18.5M358.7 881.7v10M349.4 881.7h18.5M349.4 891.7h18.5M369.7 881v10.3M360.5 881h18.5M360.5 891.3h18.5M380.7 879.9v11.3M371.5 879.9h18.5M371.5 891.3h18.5M391.8 881.6v9.9M382.5 881.6h18.5M382.5 891.5h18.5M402.8 883.7v8.4M393.5 883.7h18.5M393.5 892.1h18.5M413.8 884.8v10.5M404.6 884.8h18.5M404.6 895.3h18.5M424.9 883.6v9.3M415.6 883.6h18.5M415.6 892.8h18.5M435.9 883.1v11.5M426.6 883.1h18.5M426.6 894.6h18.5M446.9 885.7v10.1M437.7 885.7h18.5M437.7 895.8h18.5M457.9 884.2v10.1M448.7 884.2h18.5M448.7 894.4h18.5M469 884.4v12.3M459.7 884.4h18.5M459.7 896.7h18.5M480 887.3v10.3M470.7 887.3h18.5M470.7 897.6h18.5M491 887.6v10.2M481.8 887.6h18.5M481.8 897.8h18.5M502.1 887.6v10.2M492.8 887.6h18.5M492.8 897.8h18.5M513.1 888.6v10.8M503.8 888.6h18.5M503.8 899.4h18.5M524.1 886.1v9.3M514.9 886.1h18.5M514.9 895.4h18.5M535.1 889.9v11.2M525.9 889.9h18.5M525.9 901.1h18.5M546.2 887.6v12.7M536.9 887.6h18.5M536.9 900.3h18.5M557.2 888.1v11.3M547.9 888.1h18.5M547.9 899.4h18.5M568.2 890.4v12.1M559 890.4h18.5M559 902.5h18.5M579.2 891v13M570 891h18.5M570 904h18.5M590.3 890.6v12.6M581 890.6h18.5M581 903.2h18.5M601.3 890.6v12.3M592.1 890.6h18.5M592.1 902.9h18.5M612.3 892.3v12.6M603.1 892.3h18.5M603.1 904.9h18.5M623.4 892.7v12.7M614.1 892.7h18.5M614.1 905.4h18.5M634.4 896v10.5M625.1 896h18.5M625.1 906.5h18.5M645.4 895.4v11.4M636.2 895.4h18.5M636.2 906.8h18.5M656.4 895.6v10.9M647.2 895.6h18.5M647.2 906.6h18.5M667.5 897.4v10.7M658.2 897.4h18.5M658.2 908h18.5M678.5 895.9v12M669.2 895.9h18.5M669.2 907.8h18.5M689.5 896.1v11M680.3 896.1h18.5M680.3 907.1h18.5M700.6 897.8v12.2M691.3 897.8h18.5M691.3 910h18.5M711.6 898.4v12.2M702.3 898.4h18.5M702.3 910.6h18.5M722.6 899v10.3M713.4 899h18.5M713.4 909.3h18.5M733.6 898.3v11.7M724.4 898.3h18.5M724.4 910h18.5M744.7 900.1v11.5M735.4 900.1h18.5M735.4 911.6h18.5M755.7 897v12.9M746.4 897h18.5M746.4 909.9h18.5M766.7 902.3v10.4M757.5 902.3h18.5M757.5 912.8h18.5M777.8 902.5v10.8M768.5 902.5h18.5M768.5 913.3h18.5M788.8 900v12.3M779.5 900h18.5M779.5 912.3h18.5M799.8 902.7v11.9M790.6 902.7h18.5M790.6 914.6h18.5M810.8 901.6v13M801.6 901.6h18.5M801.6 914.6h18.5M821.9 904.7v11.7M812.6 904.7h18.5M812.6 916.4h18.5M832.9 902.5v11.2M823.6 902.5h18.5M823.6 913.7h18.5M843.9 902.8v14.2M834.7 902.8h18.5M834.7 917h18.5M854.9 906.5v11.5M845.7 906.5h18.5M845.7 918h18.5M866 907.8v11.2M856.7 907.8h18.5M856.7 918.9h18.5M877 904.4v11.7M867.8 904.4h18.5M867.8 916.2h18.5M888 906.7v12M878.8 906.7h18.5M878.8 918.7h18.5M899.1 908.4v11.6M889.8 908.4h18.5M889.8 920h18.5M910.1 907.3v12.9M900.8 907.3h18.5M900.8 920.2h18.5M921.1 909.5v14.6M911.9 909.5h18.5M911.9 924.1h18.5M932.1 908.6v11.4M922.9 908.6h18.5M922.9 920h18.5M943.2 910.3v12.6M933.9 910.3h18.5M933.9 922.9h18.5M954.2 908.8v13.7M945 908.8h18.5M945 922.5h18.5" fill="none" stroke="#a9d6b5" stroke-width="2.4"/>
<path d="M127.1 874.8h0M138.1 870.4h0M149.2 874.2h0M160.2 873.7h0M171.2 874.5h0M182.2 875.3h0M193.3 873.9h0M204.3 876.5h0M215.3 876.4h0M226.4 881.6h0M237.4 878.7h0M248.4 878.7h0M259.4 879.4h0M270.5 879.5h0M281.5 879.7h0M292.5 881h0M303.5 882.6h0M314.6 882.4h0M325.6 884.3h0M336.6 883.6h0M347.7 884.4h0M358.7 886.7h0M369.7 886.2h0M380.7 885.6h0M391.8 886.5h0M402.8 887.9h0M413.8 890.1h0M424.9 888.2h0M435.9 888.8h0M446.9 890.8h0M457.9 889.3h0M469 890.5h0M480 892.4h0M491 892.7h0M502.1 892.7h0M513.1 894h0M524.1 890.7h0M535.1 895.5h0M546.2 893.9h0M557.2 893.7h0M568.2 896.5h0M579.2 897.5h0M590.3 896.9h0M601.3 896.8h0M612.3 898.6h0M623.4 899.1h0M634.4 901.3h0M645.4 901.1h0M656.4 901.1h0M667.5 902.7h0M678.5 901.8h0M689.5 901.6h0M700.6 903.9h0M711.6 904.5h0M722.6 904.2h0M733.6 904.2h0M744.7 905.9h0M755.7 903.4h0M766.7 907.5h0M777.8 907.9h0M788.8 906.2h0M799.8 908.6h0M810.8 908.1h0M821.9 910.6h0M832.9 908.1h0M843.9 909.9h0M854.9 912.3h0M866 913.4h0M877 910.3h0M888 912.7h0M899.1 914.2h0M910.1 913.8h0M921.1 916.8h0M932.1 914.3h0M943.2 916.6h0M954.2 915.6h0" fill="none" stroke="#a9d6b5" stroke-width="10" stroke-linecap="round"/>
<line x1="127.1" y1="872.6" x2="954.2" y2="916.8" stroke="#76a685" stroke-width="3.0"/>
<path d="M127.1 1238.6v15.2M117.8 1238.6h18.5M117.8 1253.8h18.5M138.1 1233.2v15.5M128.9 1233.2h18.5M128.9 1248.7h18.5M149.2 1240.7v13.8M139.9 1240.7h18.5M139.9 1254.5h18.5M160.2 1242.6v14.7M150.9 1242.6h18.5M150.9 1257.3h18.5M171.2 1241.3v15.5M162 1241.3h18.5M162 1256.8h18.5M182.2 1241.1v13.9M173 1241.1h18.5M173 1255h18.5M193.3 1244.2v15M184 1244.2h18.5M184 1259.2h18.5M204.3 1245.8v14.3M195 1245.8h18.5M195 1260.1h18.5M215.3 1243.9v15.6M206.1 1243.9h18.5M206.1 1259.5h18.5M226.4 1247.2v16M217.1 1247.2h18.5M217.1 1263.2h18.5M237.4 1248.7v15.2M228.1 1248.7h18.5M228.1 1263.9h18.5M248.4 1248.2v14.3M239.2 1248.2h18.5M239.2 1262.5h18.5M259.4 1248.9v14.5M250.2 1248.9h18.5M250.2 1263.4h18.5M270.5 1255.8v15.2M261.2 1255.8h18.5M261.2 1271.1h18.5M281.5 1270.7v16.2M272.2 1270.7h18.5M272.2 1286.9h18.5M292.5 1275.8v15M283.3 1275.8h18.5M283.3 1290.8h18.5M303.5 1276.6v16M294.3 1276.6h18.5M294.3 1292.6h18.5M314.6 1278.1v15.5M305.3 1278.1h18.5M305.3 1293.7h18.5M325.6 1280.2v15.3M316.4 1280.2h18.5M316.4 1295.5h18.5M336.6 1276.5v16.3M327.4 1276.5h18.5M327.4 1292.8h18.5M347.7 1278.3v15.6M338.4 1278.3h18.5M338.4 1293.8h18.5M358.7 1275.8v15.8M349.4 1275.8h18.5M349.4 1291.5h18.5M369.7 1274.9v16.6M360.5 1274.9h18.5M360.5 1291.6h18.5M380.7 1274.2v16.2M371.5 1274.2h18.5M371.5 1290.4h18.5M391.8 1272.9v16.8M382.5 1272.9h18.5M382.5 1289.7h18.5M402.8 1272.7v16.4M393.5 1272.7h18.5M393.5 1289.1h18.5M413.8 1275.7v15.7M404.6 1275.7h18.5M404.6 1291.5h18.5M424.9 1273.1v16.4M415.6 1273.1h18.5M415.6 1289.5h18.5M435.9 1270.4v17.3M426.6 1270.4h18.5M426.6 1287.7h18.5M446.9 1270.3v16.8M437.7 1270.3h18.5M437.7 1287h18.5M457.9 1271.1v17.6M448.7 1271.1h18.5M448.7 1288.8h18.5M469 1266.2v15.8M459.7 1266.2h18.5M459.7 1282h18.5M480 1273v16.6M470.7 1273h18.5M470.7 1289.6h18.5M491 1275.8v17.5M481.8 1275.8h18.5M481.8 1293.2h18.5M502.1 1273.5v17.4M492.8 1273.5h18.5M492.8 1290.9h18.5M513.1 1271.3v17.2M503.8 1271.3h18.5M503.8 1288.5h18.5M524.1 1271.1v17.5M514.9 1271.1h18.5M514.9 1288.6h18.5M535.1 1269.9v18M525.9 1269.9h18.5M525.9 1288h18.5M546.2 1266.8v17.7M536.9 1266.8h18.5M536.9 1284.5h18.5M557.2 1271.1v17.5M547.9 1271.1h18.5M547.9 1288.6h18.5M568.2 1274.3v17.6M559 1274.3h18.5M559 1291.9h18.5M579.2 1277.2v17.9M570 1277.2h18.5M570 1295.1h18.5M590.3 1266.5v17.3M581 1266.5h18.5M581 1283.8h18.5M601.3 1274v18.1M592.1 1274h18.5M592.1 1292h18.5M612.3 1270.8v18M603.1 1270.8h18.5M603.1 1288.8h18.5M623.4 1270.6v18.5M614.1 1270.6h18.5M614.1 1289.1h18.5M634.4 1276.3v17.9M625.1 1276.3h18.5M625.1 1294.2h18.5M645.4 1276.7v17.1M636.2 1276.7h18.5M636.2 1293.8h18.5M656.4 1277.1v18.2M647.2 1277.1h18.5M647.2 1295.3h18.5M667.5 1273.5v18.9M658.2 1273.5h18.5M658.2 1292.4h18.5M678.5 1266.9v18.5M669.2 1266.9h18.5M669.2 1285.5h18.5M689.5 1276.8v18.6M680.3 1276.8h18.5M680.3 1295.4h18.5M700.6 1278.3v18.2M691.3 1278.3h18.5M691.3 1296.5h18.5M711.6 1279.7v18.2M702.3 1279.7h18.5M702.3 1297.9h18.5M722.6 1280.1v19M713.4 1280.1h18.5M713.4 1299.2h18.5M733.6 1278.5v17.8M724.4 1278.5h18.5M724.4 1296.3h18.5M744.7 1276.3v19.5M735.4 1276.3h18.5M735.4 1295.8h18.5M755.7 1276.3v19.6M746.4 1276.3h18.5M746.4 1295.9h18.5M766.7 1282v19.8M757.5 1282h18.5M757.5 1301.8h18.5M777.8 1282.8v18.2M768.5 1282.8h18.5M768.5 1301h18.5M788.8 1282.8v18.3M779.5 1282.8h18.5M779.5 1301.1h18.5M799.8 1278.7v19.9M790.6 1278.7h18.5M790.6 1298.6h18.5M810.8 1282.4v19M801.6 1282.4h18.5M801.6 1301.4h18.5M821.9 1282.4v18.8M812.6 1282.4h18.5M812.6 1301.3h18.5M832.9 1284.6v19.1M823.6 1284.6h18.5M823.6 1303.7h18.5M843.9 1285.2v19.7M834.7 1285.2h18.5M834.7 1305h18.5M854.9 1285.7v18.8M845.7 1285.7h18.5M845.7 1304.5h18.5M866 1277.5v19.6M856.7 1277.5h18.5M856.7 1297.1h18.5M877 1277.3v20M867.8 1277.3h18.5M867.8 1297.3h18.5M888 1285.3v20.2M878.8 1285.3h18.5M878.8 1305.5h18.5M899.1 1286.9v18.8M889.8 1286.9h18.5M889.8 1305.8h18.5M910.1 1285.2v20.5M900.8 1285.2h18.5M900.8 1305.7h18.5M921.1 1286.5v19.8M911.9 1286.5h18.5M911.9 1306.4h18.5M932.1 1287.7v19.9M922.9 1287.7h18.5M922.9 1307.6h18.5M943.2 1287.8v20.2M933.9 1287.8h18.5M933.9 1308h18.5M954.2 1288.7v19.8M945 1288.7h18.5M945 1308.5h18.5" fill="none" stroke="#f90f15" stroke-width="2.4"/>
<path d="M127.1 1246.2h0M138.1 1240.9h0M149.2 1247.6h0M160.2 1249.9h0M171.2 1249h0M182.2 1248.1h0M193.3 1251.7h0M204.3 1253h0M215.3 1251.7h0M226.4 1255.2h0M237.4 1256.3h0M248.4 1255.3h0M259.4 1256.1h0M270.5 1263.5h0M281.5 1278.8h0M292.5 1283.3h0M303.5 1284.6h0M314.6 1285.9h0M325.6 1287.8h0M336.6 1284.6h0M347.7 1286h0M358.7 1283.7h0M369.7 1283.3h0M380.7 1282.3h0M391.8 1281.3h0M402.8 1280.9h0M413.8 1283.6h0M424.9 1281.3h0M435.9 1279h0M446.9 1278.6h0M457.9 1280h0M469 1274.1h0M480 1281.3h0M491 1284.5h0M502.1 1282.2h0M513.1 1279.9h0M524.1 1279.8h0M535.1 1278.9h0M546.2 1275.7h0M557.2 1279.9h0M568.2 1283.1h0M579.2 1286.2h0M590.3 1275.1h0M601.3 1283h0M612.3 1279.8h0M623.4 1279.8h0M634.4 1285.3h0M645.4 1285.3h0M656.4 1286.2h0M667.5 1283h0M678.5 1276.2h0M689.5 1286.1h0M700.6 1287.4h0M711.6 1288.8h0M722.6 1289.6h0M733.6 1287.4h0M744.7 1286.1h0M755.7 1286.1h0M766.7 1291.9h0M777.8 1291.9h0M788.8 1291.9h0M799.8 1288.6h0M810.8 1291.9h0M821.9 1291.9h0M832.9 1294.2h0M843.9 1295.1h0M854.9 1295.1h0M866 1287.3h0M877 1287.3h0M888 1295.4h0M899.1 1296.3h0M910.1 1295.5h0M921.1 1296.5h0M932.1 1297.7h0M943.2 1297.9h0M954.2 1298.6h0" fill="none" stroke="#f90f15" stroke-width="10" stroke-linecap="round"/>
<line x1="127.1" y1="1245.2" x2="954.2" y2="1298.6" stroke="#97452f" stroke-width="3.2"/>
<path d="M127.1 1359.5v13.9M117.8 1359.5h18.5M117.8 1373.3h18.5M138.1 1355.8v15M128.9 1355.8h18.5M128.9 1370.8h18.5M149.2 1360.1v13.4M139.9 1360.1h18.5M139.9 1373.5h18.5M160.2 1359.4v15.2M150.9 1359.4h18.5M150.9 1374.5h18.5M171.2 1360.2v13.4M162 1360.2h18.5M162 1373.6h18.5M182.2 1360.8v15.3M173 1360.8h18.5M173 1376.1h18.5M193.3 1362.2v14.2M184 1362.2h18.5M184 1376.4h18.5M204.3 1362.6v15.1M195 1362.6h18.5M195 1377.7h18.5M215.3 1363.2v13.7M206.1 1363.2h18.5M206.1 1376.9h18.5M226.4 1364.5v14.7M217.1 1364.5h18.5M217.1 1379.2h18.5M237.4 1365v15.2M228.1 1365h18.5M228.1 1380.3h18.5M248.4 1364.6v15.2M239.2 1364.6h18.5M239.2 1379.8h18.5M259.4 1365.4v15.7M250.2 1365.4h18.5M250.2 1381.1h18.5M270.5 1367v14.5M261.2 1367h18.5M261.2 1381.5h18.5M281.5 1367.2v15M272.2 1367.2h18.5M272.2 1382.2h18.5M292.5 1369v15.5M283.3 1369h18.5M283.3 1384.6h18.5M303.5 1369.3v14.5M294.3 1369.3h18.5M294.3 1383.8h18.5M314.6 1368.5v16.2M305.3 1368.5h18.5M305.3 1384.6h18.5M325.6 1369.7v15.4M316.4 1369.7h18.5M316.4 1385.1h18.5M336.6 1371v15.2M327.4 1371h18.5M327.4 1386.1h18.5M347.7 1373.1v15.2M338.4 1373.1h18.5M338.4 1388.3h18.5M358.7 1371.8v16.1M349.4 1371.8h18.5M349.4 1388h18.5M369.7 1373.3v15M360.5 1373.3h18.5M360.5 1388.3h18.5M380.7 1374v15.5M371.5 1374h18.5M371.5 1389.5h18.5M391.8 1374.2v15.7M382.5 1374.2h18.5M382.5 1390h18.5M402.8 1376.3v15.7M393.5 1376.3h18.5M393.5 1392.1h18.5M413.8 1379v16.7M404.6 1379h18.5M404.6 1395.7h18.5M424.9 1376.4v16.6M415.6 1376.4h18.5M415.6 1393h18.5M435.9 1376.4v17.3M426.6 1376.4h18.5M426.6 1393.7h18.5M446.9 1377.6v17M437.7 1377.6h18.5M437.7 1394.5h18.5M457.9 1377.6v16.2M448.7 1377.6h18.5M448.7 1393.8h18.5M469 1374.2v16.4M459.7 1374.2h18.5M459.7 1390.6h18.5M480 1379.7v16.1M470.7 1379.7h18.5M470.7 1395.8h18.5M491 1383.6v16.4M481.8 1383.6h18.5M481.8 1400h18.5M502.1 1380.1v17.2M492.8 1380.1h18.5M492.8 1397.3h18.5M513.1 1380.7v17.5M503.8 1380.7h18.5M503.8 1398.3h18.5M524.1 1382.6v16.8M514.9 1382.6h18.5M514.9 1399.4h18.5M535.1 1383.5v16.9M525.9 1383.5h18.5M525.9 1400.4h18.5M546.2 1378.4v17.9M536.9 1378.4h18.5M536.9 1396.3h18.5M557.2 1384.3v18.3M547.9 1384.3h18.5M547.9 1402.7h18.5M568.2 1385.6v16.7M559 1385.6h18.5M559 1402.2h18.5M579.2 1390.1v16.8M570 1390.1h18.5M570 1406.9h18.5M590.3 1380.1v18.2M581 1380.1h18.5M581 1398.3h18.5M601.3 1389v17.8M592.1 1389h18.5M592.1 1406.8h18.5M612.3 1387.4v17.7M603.1 1387.4h18.5M603.1 1405.1h18.5M623.4 1383.2v18.2M614.1 1383.2h18.5M614.1 1401.4h18.5M634.4 1391.7v18.6M625.1 1391.7h18.5M625.1 1410.3h18.5M645.4 1393.1v17.3M636.2 1393.1h18.5M636.2 1410.4h18.5M656.4 1389.4v19.1M647.2 1389.4h18.5M647.2 1408.5h18.5M667.5 1384.5v19.2M658.2 1384.5h18.5M658.2 1403.8h18.5M678.5 1386.8v18.2M669.2 1386.8h18.5M669.2 1405h18.5M689.5 1396.4v18.4M680.3 1396.4h18.5M680.3 1414.8h18.5M700.6 1392.9v18.1M691.3 1392.9h18.5M691.3 1411h18.5M711.6 1393.2v18.8M702.3 1393.2h18.5M702.3 1412h18.5M722.6 1395.1v18.2M713.4 1395.1h18.5M713.4 1413.2h18.5M733.6 1393.6v18.9M724.4 1393.6h18.5M724.4 1412.5h18.5M744.7 1395.2v19.7M735.4 1395.2h18.5M735.4 1414.9h18.5M755.7 1396.7v19M746.4 1396.7h18.5M746.4 1415.8h18.5M766.7 1395.9v19.8M757.5 1395.9h18.5M757.5 1415.6h18.5M777.8 1398.6v18.6M768.5 1398.6h18.5M768.5 1417.1h18.5M788.8 1398v20M779.5 1398h18.5M779.5 1418h18.5M799.8 1398.7v18.6M790.6 1398.7h18.5M790.6 1417.3h18.5M810.8 1399.8v18.9M801.6 1399.8h18.5M801.6 1418.6h18.5M821.9 1398.9v20M812.6 1398.9h18.5M812.6 1418.9h18.5M832.9 1400.5v19.2M823.6 1400.5h18.5M823.6 1419.8h18.5M843.9 1402.8v19M834.7 1402.8h18.5M834.7 1421.8h18.5M854.9 1401.9v19M845.7 1401.9h18.5M845.7 1420.9h18.5M866 1396.7v20.5M856.7 1396.7h18.5M856.7 1417.2h18.5M877 1399.1v19M867.8 1399.1h18.5M867.8 1418.1h18.5M888 1406.8v19.2M878.8 1406.8h18.5M878.8 1425.9h18.5M899.1 1404.3v21.1M889.8 1404.3h18.5M889.8 1425.3h18.5M910.1 1403.7v20.8M900.8 1403.7h18.5M900.8 1424.5h18.5M921.1 1405.8v20.1M911.9 1405.8h18.5M911.9 1425.9h18.5M932.1 1407.1v19.8M922.9 1407.1h18.5M922.9 1426.9h18.5M943.2 1406.3v21.2M933.9 1406.3h18.5M933.9 1427.5h18.5M954.2 1406.9v21.2M945 1406.9h18.5M945 1428.1h18.5" fill="none" stroke="#000" stroke-width="2.4"/>
<path d="M127.1 1366.4h0M138.1 1363.3h0M149.2 1366.8h0M160.2 1367h0M171.2 1366.9h0M182.2 1368.5h0M193.3 1369.3h0M204.3 1370.1h0M215.3 1370h0M226.4 1371.9h0M237.4 1372.6h0M248.4 1372.2h0M259.4 1373.2h0M270.5 1374.3h0M281.5 1374.7h0M292.5 1376.8h0M303.5 1376.6h0M314.6 1376.6h0M325.6 1377.4h0M336.6 1378.5h0M347.7 1380.7h0M358.7 1379.9h0M369.7 1380.8h0M380.7 1381.7h0M391.8 1382.1h0M402.8 1384.2h0M413.8 1387.3h0M424.9 1384.7h0M435.9 1385.1h0M446.9 1386h0M457.9 1385.7h0M469 1382.4h0M480 1387.7h0M491 1391.8h0M502.1 1388.7h0M513.1 1389.5h0M524.1 1391h0M535.1 1391.9h0M546.2 1387.4h0M557.2 1393.5h0M568.2 1393.9h0M579.2 1398.5h0M590.3 1389.2h0M601.3 1397.9h0M612.3 1396.3h0M623.4 1392.3h0M634.4 1401h0M645.4 1401.7h0M656.4 1398.9h0M667.5 1394.2h0M678.5 1395.9h0M689.5 1405.6h0M700.6 1401.9h0M711.6 1402.6h0M722.6 1404.1h0M733.6 1403h0M744.7 1405h0M755.7 1406.2h0M766.7 1405.8h0M777.8 1407.8h0M788.8 1408h0M799.8 1408h0M810.8 1409.2h0M821.9 1408.9h0M832.9 1410.2h0M843.9 1412.3h0M854.9 1411.4h0M866 1406.9h0M877 1408.6h0M888 1416.3h0M899.1 1414.8h0M910.1 1414.1h0M921.1 1415.8h0M932.1 1417h0M943.2 1416.9h0M954.2 1417.5h0" fill="none" stroke="#000" stroke-width="10" stroke-linecap="round"/>
<line x1="127.1" y1="1365.4" x2="954.2" y2="1418.6" stroke="#cfcfcf" stroke-width="3.0"/>
<path d="M539.6 966.5v15M530.4 966.5h18.5M530.4 981.5h18.5" fill="none" stroke="#a9d6b5" stroke-width="2.3"/>
<path d="M539.6 974h0" fill="none" stroke="#a9d6b5" stroke-width="8.8" stroke-linecap="round"/>
<text class="t" x="563.2" y="982.5">Δ<tspan class="i">f</tspan></text>
<text class="t" x="610" y="982.5">data</text>
<text class="t s" x="593.6" y="964.5">+</text>
<line x1="526.8" y1="1013.8" x2="558.4" y2="1013.8" stroke="#78a888" stroke-width="2.8"/>
<text class="t" x="563.2" y="1021.4">Δ<tspan class="i">f</tspan></text>
<text class="t" x="611.2" y="1021.4">fit</text>
<text class="t s" x="593.6" y="1003.4">+</text>
<path d="M539.6 1040.9v15M530.4 1040.9h18.5M530.4 1055.9h18.5" fill="none" stroke="#f90f15" stroke-width="2.3"/>
<path d="M539.6 1048.4h0" fill="none" stroke="#f90f15" stroke-width="8.8" stroke-linecap="round"/>
<text class="t" x="563" y="1056"><tspan class="br" dy="3">⟨</tspan><tspan dy="-3" dx="-1.0">Δ</tspan><tspan class="i">f</tspan><tspan class="br" dy="3" dx="3.2">⟩</tspan><tspan dy="-3" dx="-1.5"> data</tspan></text>
<line x1="526.8" y1="1088.1" x2="558.4" y2="1088.1" stroke="#97452f" stroke-width="2.8"/>
<text class="t" x="563" y="1096"><tspan class="br" dy="3">⟨</tspan><tspan dy="-3" dx="-1.0">Δ</tspan><tspan class="i">f</tspan><tspan class="br" dy="3" dx="3.2">⟩</tspan><tspan dy="-3" dx="-1.5"> fit background</tspan></text>
<path d="M539.6 1115.8v15M530.4 1115.8h18.5M530.4 1130.8h18.5" fill="none" stroke="#000" stroke-width="2.3"/>
<path d="M539.6 1123.3h0" fill="none" stroke="#000" stroke-width="8.8" stroke-linecap="round"/>
<text class="t" x="563.2" y="1130.9">Δ<tspan class="i">f</tspan></text>
<text class="t" x="610" y="1130.9">data</text>
<text class="t s" x="593.6" y="1112.7">0</text>
<line x1="526.8" y1="1162.5" x2="558.4" y2="1162.5" stroke="#c6c6c6" stroke-width="2.8"/>
<text class="t" x="563.2" y="1169.9">Δ<tspan class="i">f</tspan></text>
<text class="t" x="611.2" y="1169.9">fit</text>
<text class="t s" x="593.6" y="1150.6">0</text>
<text class="b" x="1.2" y="841.4">c</text>
</g>
</svg></body></html>
